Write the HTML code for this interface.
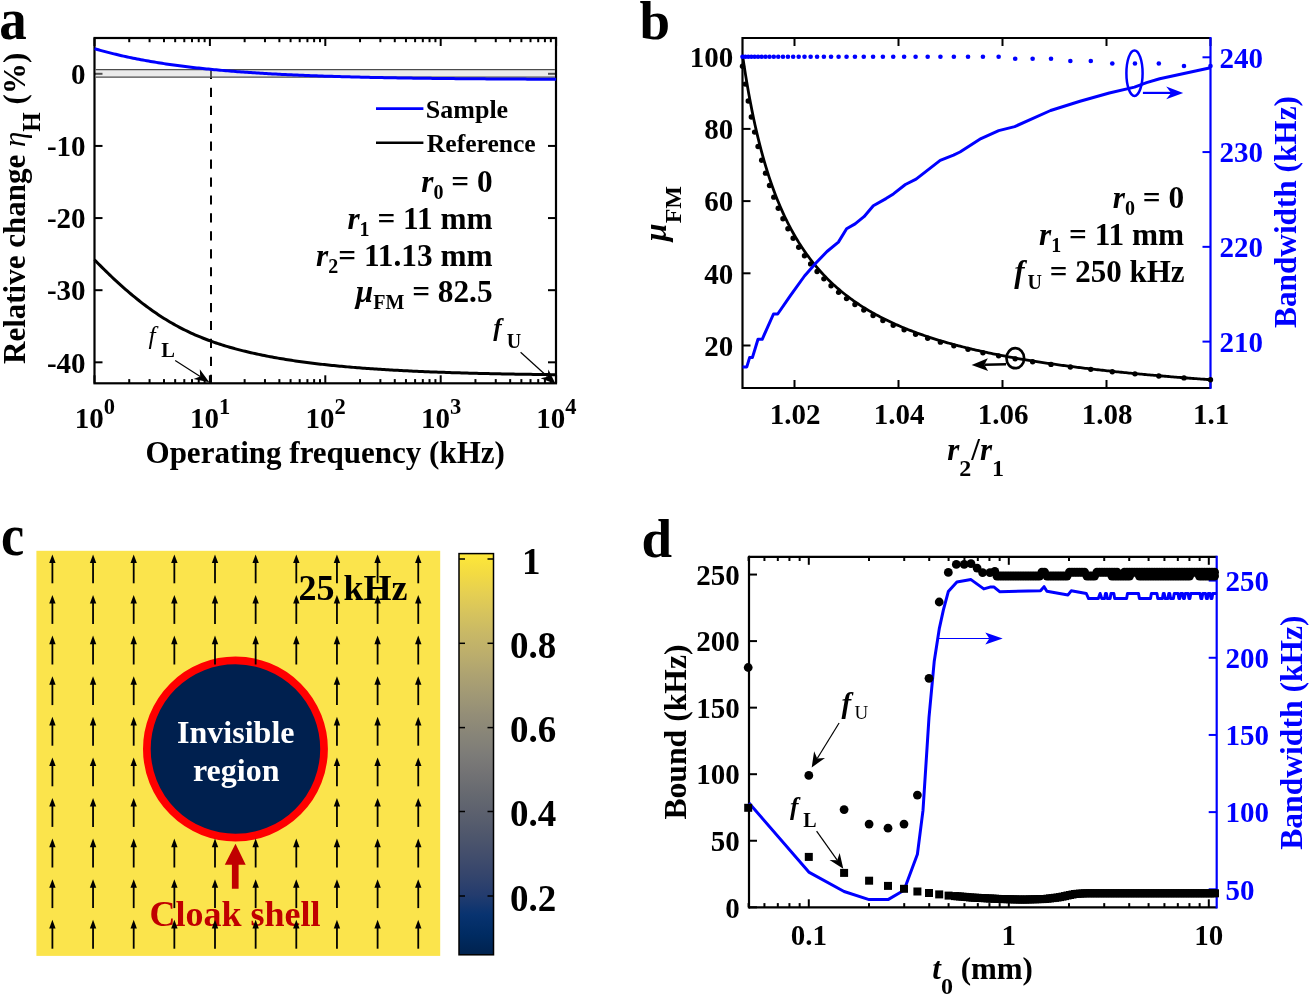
<!DOCTYPE html>
<html><head><meta charset="utf-8"><style>
html,body{margin:0;padding:0;background:#fff;overflow:hidden;}
svg{display:block;will-change:transform;}
text{font-family:"Liberation Serif",serif;font-weight:bold;}
</style></head><body>
<svg width="1309" height="995" viewBox="0 0 1309 995">
<rect width="1309" height="995" fill="#fff"/>
<line x1="94.50" y1="383.30" x2="94.50" y2="375.30" stroke="#000" stroke-width="2.0" />
<line x1="94.50" y1="38.00" x2="94.50" y2="46.00" stroke="#000" stroke-width="2.0" />
<line x1="129.24" y1="383.30" x2="129.24" y2="379.10" stroke="#000" stroke-width="2.0" />
<line x1="129.24" y1="38.00" x2="129.24" y2="42.20" stroke="#000" stroke-width="2.0" />
<line x1="149.56" y1="383.30" x2="149.56" y2="379.10" stroke="#000" stroke-width="2.0" />
<line x1="149.56" y1="38.00" x2="149.56" y2="42.20" stroke="#000" stroke-width="2.0" />
<line x1="163.98" y1="383.30" x2="163.98" y2="379.10" stroke="#000" stroke-width="2.0" />
<line x1="163.98" y1="38.00" x2="163.98" y2="42.20" stroke="#000" stroke-width="2.0" />
<line x1="175.16" y1="383.30" x2="175.16" y2="379.10" stroke="#000" stroke-width="2.0" />
<line x1="175.16" y1="38.00" x2="175.16" y2="42.20" stroke="#000" stroke-width="2.0" />
<line x1="184.30" y1="383.30" x2="184.30" y2="379.10" stroke="#000" stroke-width="2.0" />
<line x1="184.30" y1="38.00" x2="184.30" y2="42.20" stroke="#000" stroke-width="2.0" />
<line x1="192.02" y1="383.30" x2="192.02" y2="379.10" stroke="#000" stroke-width="2.0" />
<line x1="192.02" y1="38.00" x2="192.02" y2="42.20" stroke="#000" stroke-width="2.0" />
<line x1="198.72" y1="383.30" x2="198.72" y2="379.10" stroke="#000" stroke-width="2.0" />
<line x1="198.72" y1="38.00" x2="198.72" y2="42.20" stroke="#000" stroke-width="2.0" />
<line x1="204.62" y1="383.30" x2="204.62" y2="379.10" stroke="#000" stroke-width="2.0" />
<line x1="204.62" y1="38.00" x2="204.62" y2="42.20" stroke="#000" stroke-width="2.0" />
<line x1="209.90" y1="383.30" x2="209.90" y2="375.30" stroke="#000" stroke-width="2.0" />
<line x1="209.90" y1="38.00" x2="209.90" y2="46.00" stroke="#000" stroke-width="2.0" />
<line x1="244.64" y1="383.30" x2="244.64" y2="379.10" stroke="#000" stroke-width="2.0" />
<line x1="244.64" y1="38.00" x2="244.64" y2="42.20" stroke="#000" stroke-width="2.0" />
<line x1="264.96" y1="383.30" x2="264.96" y2="379.10" stroke="#000" stroke-width="2.0" />
<line x1="264.96" y1="38.00" x2="264.96" y2="42.20" stroke="#000" stroke-width="2.0" />
<line x1="279.38" y1="383.30" x2="279.38" y2="379.10" stroke="#000" stroke-width="2.0" />
<line x1="279.38" y1="38.00" x2="279.38" y2="42.20" stroke="#000" stroke-width="2.0" />
<line x1="290.56" y1="383.30" x2="290.56" y2="379.10" stroke="#000" stroke-width="2.0" />
<line x1="290.56" y1="38.00" x2="290.56" y2="42.20" stroke="#000" stroke-width="2.0" />
<line x1="299.70" y1="383.30" x2="299.70" y2="379.10" stroke="#000" stroke-width="2.0" />
<line x1="299.70" y1="38.00" x2="299.70" y2="42.20" stroke="#000" stroke-width="2.0" />
<line x1="307.42" y1="383.30" x2="307.42" y2="379.10" stroke="#000" stroke-width="2.0" />
<line x1="307.42" y1="38.00" x2="307.42" y2="42.20" stroke="#000" stroke-width="2.0" />
<line x1="314.12" y1="383.30" x2="314.12" y2="379.10" stroke="#000" stroke-width="2.0" />
<line x1="314.12" y1="38.00" x2="314.12" y2="42.20" stroke="#000" stroke-width="2.0" />
<line x1="320.02" y1="383.30" x2="320.02" y2="379.10" stroke="#000" stroke-width="2.0" />
<line x1="320.02" y1="38.00" x2="320.02" y2="42.20" stroke="#000" stroke-width="2.0" />
<line x1="325.30" y1="383.30" x2="325.30" y2="375.30" stroke="#000" stroke-width="2.0" />
<line x1="325.30" y1="38.00" x2="325.30" y2="46.00" stroke="#000" stroke-width="2.0" />
<line x1="360.04" y1="383.30" x2="360.04" y2="379.10" stroke="#000" stroke-width="2.0" />
<line x1="360.04" y1="38.00" x2="360.04" y2="42.20" stroke="#000" stroke-width="2.0" />
<line x1="380.36" y1="383.30" x2="380.36" y2="379.10" stroke="#000" stroke-width="2.0" />
<line x1="380.36" y1="38.00" x2="380.36" y2="42.20" stroke="#000" stroke-width="2.0" />
<line x1="394.78" y1="383.30" x2="394.78" y2="379.10" stroke="#000" stroke-width="2.0" />
<line x1="394.78" y1="38.00" x2="394.78" y2="42.20" stroke="#000" stroke-width="2.0" />
<line x1="405.96" y1="383.30" x2="405.96" y2="379.10" stroke="#000" stroke-width="2.0" />
<line x1="405.96" y1="38.00" x2="405.96" y2="42.20" stroke="#000" stroke-width="2.0" />
<line x1="415.10" y1="383.30" x2="415.10" y2="379.10" stroke="#000" stroke-width="2.0" />
<line x1="415.10" y1="38.00" x2="415.10" y2="42.20" stroke="#000" stroke-width="2.0" />
<line x1="422.82" y1="383.30" x2="422.82" y2="379.10" stroke="#000" stroke-width="2.0" />
<line x1="422.82" y1="38.00" x2="422.82" y2="42.20" stroke="#000" stroke-width="2.0" />
<line x1="429.52" y1="383.30" x2="429.52" y2="379.10" stroke="#000" stroke-width="2.0" />
<line x1="429.52" y1="38.00" x2="429.52" y2="42.20" stroke="#000" stroke-width="2.0" />
<line x1="435.42" y1="383.30" x2="435.42" y2="379.10" stroke="#000" stroke-width="2.0" />
<line x1="435.42" y1="38.00" x2="435.42" y2="42.20" stroke="#000" stroke-width="2.0" />
<line x1="440.70" y1="383.30" x2="440.70" y2="375.30" stroke="#000" stroke-width="2.0" />
<line x1="440.70" y1="38.00" x2="440.70" y2="46.00" stroke="#000" stroke-width="2.0" />
<line x1="475.44" y1="383.30" x2="475.44" y2="379.10" stroke="#000" stroke-width="2.0" />
<line x1="475.44" y1="38.00" x2="475.44" y2="42.20" stroke="#000" stroke-width="2.0" />
<line x1="495.76" y1="383.30" x2="495.76" y2="379.10" stroke="#000" stroke-width="2.0" />
<line x1="495.76" y1="38.00" x2="495.76" y2="42.20" stroke="#000" stroke-width="2.0" />
<line x1="510.18" y1="383.30" x2="510.18" y2="379.10" stroke="#000" stroke-width="2.0" />
<line x1="510.18" y1="38.00" x2="510.18" y2="42.20" stroke="#000" stroke-width="2.0" />
<line x1="521.36" y1="383.30" x2="521.36" y2="379.10" stroke="#000" stroke-width="2.0" />
<line x1="521.36" y1="38.00" x2="521.36" y2="42.20" stroke="#000" stroke-width="2.0" />
<line x1="530.50" y1="383.30" x2="530.50" y2="379.10" stroke="#000" stroke-width="2.0" />
<line x1="530.50" y1="38.00" x2="530.50" y2="42.20" stroke="#000" stroke-width="2.0" />
<line x1="538.22" y1="383.30" x2="538.22" y2="379.10" stroke="#000" stroke-width="2.0" />
<line x1="538.22" y1="38.00" x2="538.22" y2="42.20" stroke="#000" stroke-width="2.0" />
<line x1="544.92" y1="383.30" x2="544.92" y2="379.10" stroke="#000" stroke-width="2.0" />
<line x1="544.92" y1="38.00" x2="544.92" y2="42.20" stroke="#000" stroke-width="2.0" />
<line x1="550.82" y1="383.30" x2="550.82" y2="379.10" stroke="#000" stroke-width="2.0" />
<line x1="550.82" y1="38.00" x2="550.82" y2="42.20" stroke="#000" stroke-width="2.0" />
<line x1="556.10" y1="383.30" x2="556.10" y2="375.30" stroke="#000" stroke-width="2.0" />
<line x1="556.10" y1="38.00" x2="556.10" y2="46.00" stroke="#000" stroke-width="2.0" />
<line x1="94.50" y1="73.80" x2="102.50" y2="73.80" stroke="#000" stroke-width="2.0" />
<line x1="556.00" y1="73.80" x2="548.00" y2="73.80" stroke="#000" stroke-width="2.0" />
<line x1="94.50" y1="145.93" x2="102.50" y2="145.93" stroke="#000" stroke-width="2.0" />
<line x1="556.00" y1="145.93" x2="548.00" y2="145.93" stroke="#000" stroke-width="2.0" />
<line x1="94.50" y1="218.06" x2="102.50" y2="218.06" stroke="#000" stroke-width="2.0" />
<line x1="556.00" y1="218.06" x2="548.00" y2="218.06" stroke="#000" stroke-width="2.0" />
<line x1="94.50" y1="290.19" x2="102.50" y2="290.19" stroke="#000" stroke-width="2.0" />
<line x1="556.00" y1="290.19" x2="548.00" y2="290.19" stroke="#000" stroke-width="2.0" />
<line x1="94.50" y1="362.32" x2="102.50" y2="362.32" stroke="#000" stroke-width="2.0" />
<line x1="556.00" y1="362.32" x2="548.00" y2="362.32" stroke="#000" stroke-width="2.0" />
<rect x="94.5" y="38.0" width="461.5" height="345.3" fill="none" stroke="#000" stroke-width="2.2"/>
<line x1="211.00" y1="69.90" x2="211.00" y2="383.30" stroke="#000" stroke-width="2" stroke-dasharray="9.2 8.73"/>
<rect x="95.6" y="69.6" width="459.3" height="7.6" fill="#cccccc" fill-opacity="0.4"/>
<line x1="95.60" y1="69.60" x2="554.90" y2="69.60" stroke="#4d4d4d" stroke-width="1.3" />
<line x1="95.60" y1="77.20" x2="554.90" y2="77.20" stroke="#4d4d4d" stroke-width="1.3" />
<polyline points="94.50,48.68 96.43,49.24 98.36,49.79 100.29,50.33 102.23,50.86 104.16,51.38 106.09,51.89 108.02,52.40 109.95,52.89 111.88,53.37 113.81,53.85 115.75,54.32 117.68,54.78 119.61,55.23 121.54,55.67 123.47,56.10 125.40,56.53 127.33,56.95 129.26,57.36 131.20,57.76 133.13,58.16 135.06,58.55 136.99,58.93 138.92,59.31 140.85,59.67 142.78,60.04 144.72,60.39 146.65,60.74 148.58,61.08 150.51,61.42 152.44,61.75 154.37,62.07 156.30,62.39 158.24,62.70 160.17,63.01 162.10,63.31 164.03,63.61 165.96,63.90 167.89,64.18 169.82,64.46 171.76,64.74 173.69,65.01 175.62,65.27 177.55,65.53 179.48,65.79 181.41,66.04 183.34,66.29 185.27,66.53 187.21,66.77 189.14,67.00 191.07,67.23 193.00,67.45 194.93,67.67 196.86,67.89 198.79,68.10 200.73,68.31 202.66,68.52 204.59,68.72 206.52,68.92 208.45,69.11 210.38,69.30 212.31,69.49 214.25,69.67 216.18,69.85 218.11,70.03 220.04,70.21 221.97,70.38 223.90,70.54 225.83,70.71 227.77,70.87 229.70,71.03 231.63,71.19 233.56,71.34 235.49,71.49 237.42,71.64 239.35,71.78 241.28,71.92 243.22,72.06 245.15,72.20 247.08,72.34 249.01,72.47 250.94,72.60 252.87,72.73 254.80,72.85 256.74,72.97 258.67,73.10 260.60,73.21 262.53,73.33 264.46,73.45 266.39,73.56 268.32,73.67 270.26,73.78 272.19,73.88 274.12,73.99 276.05,74.09 277.98,74.19 279.91,74.29 281.84,74.39 283.78,74.48 285.71,74.57 287.64,74.67 289.57,74.76 291.50,74.84 293.43,74.93 295.36,75.02 297.29,75.10 299.23,75.18 301.16,75.26 303.09,75.34 305.02,75.42 306.95,75.50 308.88,75.57 310.81,75.65 312.75,75.72 314.68,75.79 316.61,75.86 318.54,75.93 320.47,76.00 322.40,76.06 324.33,76.13 326.27,76.19 328.20,76.25 330.13,76.31 332.06,76.37 333.99,76.43 335.92,76.49 337.85,76.55 339.79,76.60 341.72,76.66 343.65,76.71 345.58,76.77 347.51,76.82 349.44,76.87 351.37,76.92 353.31,76.97 355.24,77.02 357.17,77.07 359.10,77.11 361.03,77.16 362.96,77.20 364.89,77.25 366.82,77.29 368.76,77.33 370.69,77.38 372.62,77.42 374.55,77.46 376.48,77.50 378.41,77.53 380.34,77.57 382.28,77.61 384.21,77.65 386.14,77.68 388.07,77.72 390.00,77.75 391.93,77.79 393.86,77.82 395.80,77.85 397.73,77.89 399.66,77.92 401.59,77.95 403.52,77.98 405.45,78.01 407.38,78.04 409.32,78.07 411.25,78.10 413.18,78.13 415.11,78.15 417.04,78.18 418.97,78.21 420.90,78.23 422.83,78.26 424.77,78.28 426.70,78.31 428.63,78.33 430.56,78.36 432.49,78.38 434.42,78.40 436.35,78.42 438.29,78.45 440.22,78.47 442.15,78.49 444.08,78.51 446.01,78.53 447.94,78.55 449.87,78.57 451.81,78.59 453.74,78.61 455.67,78.63 457.60,78.65 459.53,78.66 461.46,78.68 463.39,78.70 465.33,78.72 467.26,78.73 469.19,78.75 471.12,78.77 473.05,78.78 474.98,78.80 476.91,78.81 478.84,78.83 480.78,78.84 482.71,78.86 484.64,78.87 486.57,78.89 488.50,78.90 490.43,78.91 492.36,78.93 494.30,78.94 496.23,78.95 498.16,78.96 500.09,78.98 502.02,78.99 503.95,79.00 505.88,79.01 507.82,79.02 509.75,79.03 511.68,79.05 513.61,79.06 515.54,79.07 517.47,79.08 519.40,79.09 521.34,79.10 523.27,79.11 525.20,79.12 527.13,79.13 529.06,79.14 530.99,79.15 532.92,79.15 534.85,79.16 536.79,79.17 538.72,79.18 540.65,79.19 542.58,79.20 544.51,79.21 546.44,79.21 548.37,79.22 550.31,79.23 552.24,79.24 554.17,79.24 556.10,79.25" fill="none" stroke="#0000ff" stroke-width="3" stroke-linejoin="round" />
<polyline points="94.50,259.68 96.43,261.69 98.36,263.68 100.29,265.64 102.23,267.58 104.16,269.51 106.09,271.41 108.02,273.28 109.95,275.14 111.88,276.98 113.81,278.80 115.75,280.60 117.68,282.38 119.61,284.13 121.54,285.87 123.47,287.59 125.40,289.28 127.33,290.96 129.26,292.61 131.20,294.24 133.13,295.85 135.06,297.44 136.99,299.00 138.92,300.54 140.85,302.06 142.78,303.56 144.72,305.03 146.65,306.48 148.58,307.90 150.51,309.30 152.44,310.68 154.37,312.02 156.30,313.35 158.24,314.65 160.17,315.93 162.10,317.18 164.03,318.40 165.96,319.60 167.89,320.78 169.82,321.93 171.76,323.05 173.69,324.16 175.62,325.24 177.55,326.29 179.48,327.32 181.41,328.33 183.34,329.31 185.27,330.28 187.21,331.22 189.14,332.14 191.07,333.03 193.00,333.91 194.93,334.77 196.86,335.60 198.79,336.42 200.73,337.22 202.66,338.00 204.59,338.76 206.52,339.50 208.45,340.23 210.38,340.94 212.31,341.63 214.25,342.31 216.18,342.97 218.11,343.62 220.04,344.25 221.97,344.87 223.90,345.47 225.83,346.06 227.77,346.64 229.70,347.21 231.63,347.76 233.56,348.30 235.49,348.83 237.42,349.35 239.35,349.86 241.28,350.36 243.22,350.84 245.15,351.32 247.08,351.79 249.01,352.24 250.94,352.69 252.87,353.13 254.80,353.56 256.74,353.98 258.67,354.40 260.60,354.80 262.53,355.20 264.46,355.59 266.39,355.97 268.32,356.35 270.26,356.71 272.19,357.07 274.12,357.43 276.05,357.77 277.98,358.11 279.91,358.45 281.84,358.77 283.78,359.09 285.71,359.41 287.64,359.72 289.57,360.02 291.50,360.32 293.43,360.61 295.36,360.90 297.29,361.18 299.23,361.45 301.16,361.72 303.09,361.99 305.02,362.25 306.95,362.50 308.88,362.75 310.81,363.00 312.75,363.24 314.68,363.47 316.61,363.71 318.54,363.93 320.47,364.16 322.40,364.38 324.33,364.59 326.27,364.80 328.20,365.01 330.13,365.21 332.06,365.41 333.99,365.61 335.92,365.80 337.85,365.99 339.79,366.17 341.72,366.36 343.65,366.53 345.58,366.71 347.51,366.88 349.44,367.05 351.37,367.21 353.31,367.38 355.24,367.53 357.17,367.69 359.10,367.84 361.03,367.99 362.96,368.14 364.89,368.29 366.82,368.43 368.76,368.57 370.69,368.70 372.62,368.84 374.55,368.97 376.48,369.10 378.41,369.23 380.34,369.35 382.28,369.47 384.21,369.59 386.14,369.71 388.07,369.82 390.00,369.94 391.93,370.05 393.86,370.16 395.80,370.26 397.73,370.37 399.66,370.47 401.59,370.57 403.52,370.67 405.45,370.77 407.38,370.87 409.32,370.96 411.25,371.05 413.18,371.14 415.11,371.23 417.04,371.32 418.97,371.40 420.90,371.48 422.83,371.57 424.77,371.65 426.70,371.73 428.63,371.80 430.56,371.88 432.49,371.95 434.42,372.03 436.35,372.10 438.29,372.17 440.22,372.24 442.15,372.31 444.08,372.37 446.01,372.44 447.94,372.50 449.87,372.57 451.81,372.63 453.74,372.69 455.67,372.75 457.60,372.81 459.53,372.86 461.46,372.92 463.39,372.98 465.33,373.03 467.26,373.08 469.19,373.13 471.12,373.19 473.05,373.24 474.98,373.29 476.91,373.33 478.84,373.38 480.78,373.43 482.71,373.47 484.64,373.52 486.57,373.56 488.50,373.61 490.43,373.65 492.36,373.69 494.30,373.73 496.23,373.77 498.16,373.81 500.09,373.85 502.02,373.89 503.95,373.92 505.88,373.96 507.82,373.99 509.75,374.03 511.68,374.06 513.61,374.10 515.54,374.13 517.47,374.16 519.40,374.20 521.34,374.23 523.27,374.26 525.20,374.29 527.13,374.32 529.06,374.35 530.99,374.37 532.92,374.40 534.85,374.43 536.79,374.46 538.72,374.48 540.65,374.51 542.58,374.53 544.51,374.56 546.44,374.58 548.37,374.61 550.31,374.63 552.24,374.65 554.17,374.68 556.10,374.70" fill="none" stroke="#000" stroke-width="3" stroke-linejoin="round" />
<text x="85.60" y="84.00" font-size="29" text-anchor="end" fill="#000" >0</text>
<text x="85.60" y="156.13" font-size="29" text-anchor="end" fill="#000" >-10</text>
<text x="85.60" y="228.26" font-size="29" text-anchor="end" fill="#000" >-20</text>
<text x="85.60" y="300.39" font-size="29" text-anchor="end" fill="#000" >-30</text>
<text x="85.60" y="372.52" font-size="29" text-anchor="end" fill="#000" >-40</text>
<text x="94.80" y="428.00" text-anchor="middle" fill="#000"><tspan font-size="29">10</tspan><tspan font-size="22.5" dy="-14.30">0</tspan></text>
<text x="210.20" y="428.00" text-anchor="middle" fill="#000"><tspan font-size="29">10</tspan><tspan font-size="22.5" dy="-14.30">1</tspan></text>
<text x="325.60" y="428.00" text-anchor="middle" fill="#000"><tspan font-size="29">10</tspan><tspan font-size="22.5" dy="-14.30">2</tspan></text>
<text x="441.00" y="428.00" text-anchor="middle" fill="#000"><tspan font-size="29">10</tspan><tspan font-size="22.5" dy="-14.30">3</tspan></text>
<text x="556.40" y="428.00" text-anchor="middle" fill="#000"><tspan font-size="29">10</tspan><tspan font-size="22.5" dy="-14.30">4</tspan></text>
<text x="325.20" y="463.00" font-size="31" text-anchor="middle" fill="#000" >Operating frequency (kHz)</text>
<text transform="translate(24.5,208.4) rotate(-90)" text-anchor="middle" fill="#000"><tspan font-size="31">Relative change </tspan><tspan font-size="31" font-weight="normal" font-style="italic">η</tspan><tspan font-size="25" dy="15.00">H</tspan><tspan font-size="31" dy="-15.00"> (%)</tspan></text>
<text transform="translate(-0.8,38.7) scale(1,1.07)" font-size="55">a</text>
<line x1="376.00" y1="108.60" x2="423.40" y2="108.60" stroke="#0000ff" stroke-width="2.6" />
<line x1="376.00" y1="142.70" x2="423.40" y2="142.70" stroke="#000" stroke-width="2.6" />
<text x="425.80" y="118.00" font-size="26" text-anchor="start" fill="#000" >Sample</text>
<text x="426.80" y="151.50" font-size="25.6" text-anchor="start" fill="#000" >Reference</text>
<text x="492.60" y="192.30" text-anchor="end" fill="#000"><tspan font-size="31.3" font-style="italic">r</tspan><tspan font-size="20" dy="7.00">0</tspan><tspan font-size="31.3" dy="-7.00"> = 0</tspan></text>
<text x="492.60" y="229.00" text-anchor="end" fill="#000"><tspan font-size="31.3" font-style="italic">r</tspan><tspan font-size="20" dy="7.00">1</tspan><tspan font-size="31.3" dy="-7.00"> = 11 mm</tspan></text>
<text x="492.60" y="266.00" text-anchor="end" fill="#000"><tspan font-size="31.3" font-style="italic">r</tspan><tspan font-size="20" dy="7.00">2</tspan><tspan font-size="31.3" dy="-7.00">= 11.13 mm</tspan></text>
<text x="492.60" y="302.40" text-anchor="end" fill="#000"><tspan font-size="31.3" font-style="italic">μ</tspan><tspan font-size="20" dy="7.00">FM</tspan><tspan font-size="31.3" dy="-7.00"> = 82.5</tspan></text>
<text x="148.4" y="343.9"><tspan font-size="25.5" font-style="italic" font-weight="normal">f</tspan><tspan font-size="20.5" dy="12.7" dx="5.8">L</tspan></text>
<line x1="175.20" y1="360.50" x2="200.20" y2="376.48" stroke="#000" stroke-width="1.2" />
<path d="M209.30,382.30 L193.54,379.11 L200.20,376.48 L199.79,369.33 Z" fill="#000"/>
<text x="493.3" y="335.5"><tspan font-size="25.5" font-style="italic">f</tspan><tspan font-size="20" dy="12.2" dx="5">U</tspan></text>
<line x1="520.60" y1="352.20" x2="547.61" y2="376.74" stroke="#000" stroke-width="1.2" />
<path d="M555.60,384.00 L540.60,378.21 L547.61,376.74 L548.40,369.62 Z" fill="#000"/>
<line x1="794.50" y1="388.00" x2="794.50" y2="380.00" stroke="#000" stroke-width="2.0" />
<line x1="794.50" y1="38.00" x2="794.50" y2="46.00" stroke="#000" stroke-width="2.0" />
<line x1="898.50" y1="388.00" x2="898.50" y2="380.00" stroke="#000" stroke-width="2.0" />
<line x1="898.50" y1="38.00" x2="898.50" y2="46.00" stroke="#000" stroke-width="2.0" />
<line x1="1002.50" y1="388.00" x2="1002.50" y2="380.00" stroke="#000" stroke-width="2.0" />
<line x1="1002.50" y1="38.00" x2="1002.50" y2="46.00" stroke="#000" stroke-width="2.0" />
<line x1="1106.50" y1="388.00" x2="1106.50" y2="380.00" stroke="#000" stroke-width="2.0" />
<line x1="1106.50" y1="38.00" x2="1106.50" y2="46.00" stroke="#000" stroke-width="2.0" />
<line x1="1210.50" y1="388.00" x2="1210.50" y2="380.00" stroke="#000" stroke-width="2.0" />
<line x1="1210.50" y1="38.00" x2="1210.50" y2="46.00" stroke="#000" stroke-width="2.0" />
<line x1="742.50" y1="345.50" x2="750.50" y2="345.50" stroke="#000" stroke-width="2.0" />
<line x1="742.50" y1="273.30" x2="750.50" y2="273.30" stroke="#000" stroke-width="2.0" />
<line x1="742.50" y1="201.10" x2="750.50" y2="201.10" stroke="#000" stroke-width="2.0" />
<line x1="742.50" y1="128.90" x2="750.50" y2="128.90" stroke="#000" stroke-width="2.0" />
<line x1="742.50" y1="56.70" x2="750.50" y2="56.70" stroke="#000" stroke-width="2.0" />
<line x1="1210.50" y1="341.61" x2="1202.50" y2="341.61" stroke="#0000ff" stroke-width="2.0" />
<line x1="1210.50" y1="246.84" x2="1202.50" y2="246.84" stroke="#0000ff" stroke-width="2.0" />
<line x1="1210.50" y1="152.07" x2="1202.50" y2="152.07" stroke="#0000ff" stroke-width="2.0" />
<line x1="1210.50" y1="57.30" x2="1202.50" y2="57.30" stroke="#0000ff" stroke-width="2.0" />
<line x1="742.50" y1="38.00" x2="1210.50" y2="38.00" stroke="#000" stroke-width="2.2" />
<line x1="742.50" y1="388.00" x2="1210.50" y2="388.00" stroke="#000" stroke-width="2.2" />
<line x1="742.50" y1="36.90" x2="742.50" y2="389.10" stroke="#000" stroke-width="2.2" />
<line x1="1210.50" y1="36.90" x2="1210.50" y2="389.10" stroke="#0000ff" stroke-width="2.2" />
<polyline points="742.50,54.89 744.07,65.43 745.63,75.38 747.20,84.78 748.76,93.68 750.33,102.11 751.89,110.11 753.46,117.71 755.02,124.94 756.59,131.83 758.15,138.41 759.72,144.68 761.28,150.68 762.85,156.41 764.41,161.91 765.98,167.17 767.54,172.23 769.11,177.08 770.67,181.74 772.24,186.22 773.80,190.54 775.37,194.69 776.93,198.70 778.50,202.56 780.07,206.29 781.63,209.89 783.20,213.37 784.76,216.73 786.33,219.98 787.89,223.13 789.46,226.18 791.02,229.13 792.59,232.00 794.15,234.77 795.72,237.47 797.28,240.08 798.85,242.62 800.41,245.09 801.98,247.48 803.54,249.82 805.11,252.08 806.67,254.29 808.24,256.44 809.80,258.53 811.37,260.57 812.93,262.55 814.50,264.49 816.07,266.37 817.63,268.21 819.20,270.01 820.76,271.76 822.33,273.47 823.89,275.14 825.46,276.78 827.02,278.37 828.59,279.93 830.15,281.45 831.72,282.94 833.28,284.40 834.85,285.82 836.41,287.22 837.98,288.58 839.54,289.92 841.11,291.23 842.67,292.51 844.24,293.77 845.80,295.00 847.37,296.20 848.93,297.38 850.50,298.54 852.07,299.68 853.63,300.79 855.20,301.89 856.76,302.96 858.33,304.01 859.89,305.05 861.46,306.06 863.02,307.06 864.59,308.03 866.15,308.99 867.72,309.94 869.28,310.87 870.85,311.78 872.41,312.67 873.98,313.55 875.54,314.42 877.11,315.27 878.67,316.10 880.24,316.93 881.80,317.74 883.37,318.53 884.93,319.32 886.50,320.09 888.07,320.84 889.63,321.59 891.20,322.33 892.76,323.05 894.33,323.76 895.89,324.46 897.46,325.15 899.02,325.84 900.59,326.51 902.15,327.17 903.72,327.82 905.28,328.46 906.85,329.09 908.41,329.71 909.98,330.33 911.54,330.93 913.11,331.53 914.67,332.12 916.24,332.70 917.80,333.27 919.37,333.84 920.93,334.39 922.50,334.94 924.07,335.48 925.63,336.02 927.20,336.55 928.76,337.07 930.33,337.58 931.89,338.09 933.46,338.59 935.02,339.08 936.59,339.57 938.15,340.05 939.72,340.53 941.28,341.00 942.85,341.46 944.41,341.92 945.98,342.37 947.54,342.82 949.11,343.26 950.67,343.70 952.24,344.13 953.80,344.56 955.37,344.98 956.93,345.39 958.50,345.80 960.07,346.21 961.63,346.61 963.20,347.01 964.76,347.40 966.33,347.79 967.89,348.17 969.46,348.55 971.02,348.93 972.59,349.30 974.15,349.67 975.72,350.03 977.28,350.39 978.85,350.74 980.41,351.10 981.98,351.44 983.54,351.79 985.11,352.13 986.67,352.46 988.24,352.80 989.80,353.13 991.37,353.45 992.93,353.77 994.50,354.09 996.07,354.41 997.63,354.72 999.20,355.03 1000.76,355.34 1002.33,355.64 1003.89,355.94 1005.46,356.24 1007.02,356.53 1008.59,356.83 1010.15,357.11 1011.72,357.40 1013.28,357.68 1014.85,357.96 1016.41,358.24 1017.98,358.52 1019.54,358.79 1021.11,359.06 1022.67,359.33 1024.24,359.59 1025.80,359.85 1027.37,360.11 1028.93,360.37 1030.50,360.63 1032.07,360.88 1033.63,361.13 1035.20,361.38 1036.76,361.62 1038.33,361.87 1039.89,362.11 1041.46,362.35 1043.02,362.59 1044.59,362.82 1046.15,363.05 1047.72,363.28 1049.28,363.51 1050.85,363.74 1052.41,363.97 1053.98,364.19 1055.54,364.41 1057.11,364.63 1058.67,364.85 1060.24,365.06 1061.80,365.28 1063.37,365.49 1064.93,365.70 1066.50,365.91 1068.07,366.11 1069.63,366.32 1071.20,366.52 1072.76,366.72 1074.33,366.92 1075.89,367.12 1077.46,367.32 1079.02,367.51 1080.59,367.71 1082.15,367.90 1083.72,368.09 1085.28,368.28 1086.85,368.47 1088.41,368.65 1089.98,368.84 1091.54,369.02 1093.11,369.20 1094.67,369.38 1096.24,369.56 1097.80,369.74 1099.37,369.91 1100.93,370.09 1102.50,370.26 1104.07,370.44 1105.63,370.61 1107.20,370.78 1108.76,370.94 1110.33,371.11 1111.89,371.28 1113.46,371.44 1115.02,371.61 1116.59,371.77 1118.15,371.93 1119.72,372.09 1121.28,372.25 1122.85,372.40 1124.41,372.56 1125.98,372.72 1127.54,372.87 1129.11,373.02 1130.67,373.17 1132.24,373.33 1133.80,373.48 1135.37,373.62 1136.93,373.77 1138.50,373.92 1140.07,374.06 1141.63,374.21 1143.20,374.35 1144.76,374.50 1146.33,374.64 1147.89,374.78 1149.46,374.92 1151.02,375.06 1152.59,375.19 1154.15,375.33 1155.72,375.47 1157.28,375.60 1158.85,375.74 1160.41,375.87 1161.98,376.00 1163.54,376.13 1165.11,376.26 1166.67,376.39 1168.24,376.52 1169.80,376.65 1171.37,376.78 1172.93,376.90 1174.50,377.03 1176.07,377.15 1177.63,377.28 1179.20,377.40 1180.76,377.52 1182.33,377.65 1183.89,377.77 1185.46,377.89 1187.02,378.01 1188.59,378.12 1190.15,378.24 1191.72,378.36 1193.28,378.48 1194.85,378.59 1196.41,378.71 1197.98,378.82 1199.54,378.93 1201.11,379.05 1202.67,379.16 1204.24,379.27 1205.80,379.38 1207.37,379.49 1208.93,379.60 1210.50,379.71" fill="none" stroke="#000" stroke-width="2.8" stroke-linejoin="round" />
<circle cx="742.50" cy="56.70" r="2.3" fill="#0000ff"/>
<circle cx="742.50" cy="66.32" r="2.7" fill="#000"/>
<circle cx="745.29" cy="56.70" r="2.3" fill="#0000ff"/>
<circle cx="745.29" cy="84.08" r="2.7" fill="#000"/>
<circle cx="748.24" cy="56.70" r="2.3" fill="#0000ff"/>
<circle cx="748.24" cy="100.94" r="2.7" fill="#000"/>
<circle cx="751.34" cy="56.70" r="2.3" fill="#0000ff"/>
<circle cx="751.34" cy="116.93" r="2.7" fill="#000"/>
<circle cx="754.61" cy="56.70" r="2.3" fill="#0000ff"/>
<circle cx="754.61" cy="132.11" r="2.7" fill="#000"/>
<circle cx="758.05" cy="56.70" r="2.3" fill="#0000ff"/>
<circle cx="758.05" cy="146.52" r="2.7" fill="#000"/>
<circle cx="761.68" cy="56.70" r="2.3" fill="#0000ff"/>
<circle cx="761.68" cy="160.19" r="2.7" fill="#000"/>
<circle cx="765.51" cy="56.70" r="2.3" fill="#0000ff"/>
<circle cx="765.51" cy="173.17" r="2.7" fill="#000"/>
<circle cx="769.54" cy="56.70" r="2.3" fill="#0000ff"/>
<circle cx="769.54" cy="185.48" r="2.7" fill="#000"/>
<circle cx="773.78" cy="56.70" r="2.3" fill="#0000ff"/>
<circle cx="773.78" cy="197.17" r="2.7" fill="#000"/>
<circle cx="778.26" cy="56.70" r="2.3" fill="#0000ff"/>
<circle cx="778.26" cy="208.26" r="2.7" fill="#000"/>
<circle cx="782.97" cy="56.70" r="2.3" fill="#0000ff"/>
<circle cx="782.97" cy="218.78" r="2.7" fill="#000"/>
<circle cx="787.94" cy="56.70" r="2.3" fill="#0000ff"/>
<circle cx="787.94" cy="228.77" r="2.7" fill="#000"/>
<circle cx="793.17" cy="56.70" r="2.3" fill="#0000ff"/>
<circle cx="793.17" cy="238.24" r="2.7" fill="#000"/>
<circle cx="798.69" cy="56.70" r="2.3" fill="#0000ff"/>
<circle cx="798.69" cy="247.24" r="2.7" fill="#000"/>
<circle cx="804.50" cy="56.70" r="2.3" fill="#0000ff"/>
<circle cx="804.50" cy="255.78" r="2.7" fill="#000"/>
<circle cx="810.63" cy="56.70" r="2.3" fill="#0000ff"/>
<circle cx="810.63" cy="263.88" r="2.7" fill="#000"/>
<circle cx="817.08" cy="56.70" r="2.3" fill="#0000ff"/>
<circle cx="817.08" cy="271.56" r="2.7" fill="#000"/>
<circle cx="823.88" cy="56.70" r="2.3" fill="#0000ff"/>
<circle cx="823.88" cy="278.86" r="2.7" fill="#000"/>
<circle cx="831.05" cy="56.70" r="2.3" fill="#0000ff"/>
<circle cx="831.05" cy="285.78" r="2.7" fill="#000"/>
<circle cx="838.60" cy="56.70" r="2.3" fill="#0000ff"/>
<circle cx="838.60" cy="292.35" r="2.7" fill="#000"/>
<circle cx="846.55" cy="56.70" r="2.3" fill="#0000ff"/>
<circle cx="846.55" cy="298.59" r="2.7" fill="#000"/>
<circle cx="854.94" cy="56.70" r="2.3" fill="#0000ff"/>
<circle cx="854.94" cy="304.50" r="2.7" fill="#000"/>
<circle cx="863.77" cy="56.70" r="2.3" fill="#0000ff"/>
<circle cx="863.77" cy="310.12" r="2.7" fill="#000"/>
<circle cx="873.08" cy="56.70" r="2.3" fill="#0000ff"/>
<circle cx="873.08" cy="315.45" r="2.7" fill="#000"/>
<circle cx="882.89" cy="56.70" r="2.3" fill="#0000ff"/>
<circle cx="882.89" cy="320.51" r="2.7" fill="#000"/>
<circle cx="893.23" cy="56.70" r="2.3" fill="#0000ff"/>
<circle cx="893.23" cy="325.31" r="2.7" fill="#000"/>
<circle cx="904.12" cy="56.70" r="2.3" fill="#0000ff"/>
<circle cx="904.12" cy="329.86" r="2.7" fill="#000"/>
<circle cx="915.60" cy="56.70" r="2.3" fill="#0000ff"/>
<circle cx="915.60" cy="334.18" r="2.7" fill="#000"/>
<circle cx="927.69" cy="56.70" r="2.3" fill="#0000ff"/>
<circle cx="927.69" cy="338.28" r="2.7" fill="#000"/>
<circle cx="940.43" cy="56.70" r="2.3" fill="#0000ff"/>
<circle cx="940.43" cy="342.17" r="2.7" fill="#000"/>
<circle cx="953.86" cy="56.70" r="2.3" fill="#0000ff"/>
<circle cx="953.86" cy="345.87" r="2.7" fill="#000"/>
<circle cx="968.01" cy="56.70" r="2.3" fill="#0000ff"/>
<circle cx="968.01" cy="349.37" r="2.7" fill="#000"/>
<circle cx="982.92" cy="56.70" r="2.3" fill="#0000ff"/>
<circle cx="982.92" cy="352.70" r="2.7" fill="#000"/>
<circle cx="998.63" cy="56.70" r="2.3" fill="#0000ff"/>
<circle cx="998.63" cy="355.85" r="2.7" fill="#000"/>
<circle cx="1015.18" cy="58.80" r="2.3" fill="#0000ff"/>
<circle cx="1015.18" cy="358.85" r="2.7" fill="#000"/>
<circle cx="1032.63" cy="58.80" r="2.3" fill="#0000ff"/>
<circle cx="1032.63" cy="361.69" r="2.7" fill="#000"/>
<circle cx="1051.01" cy="58.80" r="2.3" fill="#0000ff"/>
<circle cx="1051.01" cy="364.39" r="2.7" fill="#000"/>
<circle cx="1070.37" cy="61.00" r="2.3" fill="#0000ff"/>
<circle cx="1070.37" cy="366.95" r="2.7" fill="#000"/>
<circle cx="1090.78" cy="61.00" r="2.3" fill="#0000ff"/>
<circle cx="1090.78" cy="369.37" r="2.7" fill="#000"/>
<circle cx="1112.29" cy="63.50" r="2.3" fill="#0000ff"/>
<circle cx="1112.29" cy="371.68" r="2.7" fill="#000"/>
<circle cx="1134.95" cy="63.50" r="2.3" fill="#0000ff"/>
<circle cx="1134.95" cy="373.86" r="2.7" fill="#000"/>
<circle cx="1158.83" cy="63.50" r="2.3" fill="#0000ff"/>
<circle cx="1158.83" cy="375.94" r="2.7" fill="#000"/>
<circle cx="1183.99" cy="66.00" r="2.3" fill="#0000ff"/>
<circle cx="1183.99" cy="377.91" r="2.7" fill="#000"/>
<circle cx="1210.50" cy="66.00" r="2.3" fill="#0000ff"/>
<circle cx="1210.50" cy="379.78" r="2.7" fill="#000"/>
<polyline points="742.50,366.90 746.80,366.90 749.60,357.60 752.40,357.60 758.00,339.30 762.20,339.30 773.50,314.00 777.70,314.00 790.40,295.70 804.50,276.00 815.70,263.30 827.00,251.50 838.40,242.10 846.60,228.80 855.10,223.90 864.00,216.70 873.30,205.80 886.00,198.60 893.40,193.90 905.40,184.50 916.10,179.10 940.20,160.40 953.50,155.10 960.00,152.00 981.00,138.60 998.70,130.60 1014.70,126.60 1050.60,110.50 1080.00,101.30 1109.30,93.00 1134.50,87.10 1146.60,82.60 1159.70,78.70 1210.50,67.70" fill="none" stroke="#0000ff" stroke-width="3.0" stroke-linejoin="round" />
<text x="733.20" y="355.70" font-size="29" text-anchor="end" fill="#000" >20</text>
<text x="733.20" y="283.50" font-size="29" text-anchor="end" fill="#000" >40</text>
<text x="733.20" y="211.30" font-size="29" text-anchor="end" fill="#000" >60</text>
<text x="733.20" y="139.10" font-size="29" text-anchor="end" fill="#000" >80</text>
<text x="733.20" y="66.90" font-size="29" text-anchor="end" fill="#000" >100</text>
<text x="1219.50" y="351.81" font-size="29" text-anchor="start" fill="#0000ff" >210</text>
<text x="1219.50" y="257.04" font-size="29" text-anchor="start" fill="#0000ff" >220</text>
<text x="1219.50" y="162.27" font-size="29" text-anchor="start" fill="#0000ff" >230</text>
<text x="1219.50" y="67.50" font-size="29" text-anchor="start" fill="#0000ff" >240</text>
<text x="795.00" y="424.00" font-size="29" text-anchor="middle" fill="#000" >1.02</text>
<text x="899.00" y="424.00" font-size="29" text-anchor="middle" fill="#000" >1.04</text>
<text x="1003.00" y="424.00" font-size="29" text-anchor="middle" fill="#000" >1.06</text>
<text x="1107.00" y="424.00" font-size="29" text-anchor="middle" fill="#000" >1.08</text>
<text x="1211.00" y="424.00" font-size="29" text-anchor="middle" fill="#000" >1.1</text>
<text x="975.60" y="460.00" text-anchor="middle" fill="#000"><tspan font-size="31" font-style="italic">r</tspan><tspan font-size="24" dy="15.50">2</tspan><tspan font-size="31" dy="-15.50">/</tspan><tspan font-size="31" font-style="italic">r</tspan><tspan font-size="24" dy="15.50">1</tspan></text>
<text transform="translate(665.6,213.6) rotate(-90)" text-anchor="middle" fill="#000"><tspan font-size="32" font-style="italic">μ</tspan><tspan font-size="24" dy="15.50">FM</tspan></text>
<text transform="translate(1295.7,212) rotate(-90)" font-size="31.25" text-anchor="middle" fill="#0000ff">Bandwidth (kHz)</text>
<text x="639.50" y="39.00" font-size="55" text-anchor="start" fill="#000" >b</text>
<text x="1184.20" y="207.80" text-anchor="end" fill="#000"><tspan font-size="31.3" font-style="italic">r</tspan><tspan font-size="20" dy="7.00">0</tspan><tspan font-size="31.3" dy="-7.00"> = 0</tspan></text>
<text x="1184.20" y="245.00" text-anchor="end" fill="#000"><tspan font-size="31.3" font-style="italic">r</tspan><tspan font-size="20" dy="7.00">1</tspan><tspan font-size="31.3" dy="-7.00"> = 11 mm</tspan></text>
<text x="1184.6" y="281.6" text-anchor="end"><tspan font-size="31" font-style="italic">f</tspan><tspan font-size="20" dy="7" dx="3">U</tspan><tspan font-size="31" dy="-7"> = 250 kHz</tspan></text>
<ellipse cx="1134.5" cy="73.2" rx="8.1" ry="22.7" fill="none" stroke="#0000ff" stroke-width="2.5"/>
<line x1="1142.90" y1="92.90" x2="1171.20" y2="92.90" stroke="#0000ff" stroke-width="2.2" />
<path d="M1183.20,92.90 L1166.20,99.20 L1171.20,92.90 L1166.20,86.60 Z" fill="#0000ff"/>
<ellipse cx="1015.3" cy="358.2" rx="8.8" ry="10.0" fill="none" stroke="#000" stroke-width="2.7"/>
<line x1="1006.00" y1="364.30" x2="984.40" y2="364.74" stroke="#000" stroke-width="2.4" />
<path d="M971.60,365.00 L987.87,358.37 L984.40,364.74 L988.12,370.97 Z" fill="#000"/>
<text transform="translate(1.0,554.7) scale(0.95,1.07)" font-size="55">c</text>
<rect x="36.4" y="550.8" width="403.8" height="405.1" fill="#fbe44c"/>
<text x="298.50" y="599.50" font-size="36" text-anchor="start" fill="#000" >25 kHz</text>
<text x="235.00" y="925.50" font-size="36" text-anchor="middle" fill="#c00000" >Cloak shell</text>
<circle cx="235.45" cy="749" r="88.6" fill="#00204f" stroke="#ff0000" stroke-width="7.7"/>
<text x="235.80" y="743.20" font-size="32" text-anchor="middle" fill="#ffffff" >Invisible</text>
<text x="236.20" y="781.00" font-size="32" text-anchor="middle" fill="#ffffff" >region</text>
<path d="M235.5,843.8 L245.7,864.8 L238.6,864.8 L238.6,888.8 L231.9,888.8 L231.9,864.8 L224.8,864.8 Z" fill="#c00000"/>
<line x1="52.40" y1="560.40" x2="52.40" y2="583.30" stroke="#000" stroke-width="1.8" />
<path d="M52.40,554.40 L49.20,563.00 L55.60,563.00 Z" fill="#000"/>
<line x1="52.40" y1="601.00" x2="52.40" y2="623.90" stroke="#000" stroke-width="1.8" />
<path d="M52.40,595.00 L49.20,603.60 L55.60,603.60 Z" fill="#000"/>
<line x1="52.40" y1="641.60" x2="52.40" y2="664.50" stroke="#000" stroke-width="1.8" />
<path d="M52.40,635.60 L49.20,644.20 L55.60,644.20 Z" fill="#000"/>
<line x1="52.40" y1="682.20" x2="52.40" y2="705.10" stroke="#000" stroke-width="1.8" />
<path d="M52.40,676.20 L49.20,684.80 L55.60,684.80 Z" fill="#000"/>
<line x1="52.40" y1="722.80" x2="52.40" y2="745.70" stroke="#000" stroke-width="1.8" />
<path d="M52.40,716.80 L49.20,725.40 L55.60,725.40 Z" fill="#000"/>
<line x1="52.40" y1="763.40" x2="52.40" y2="786.30" stroke="#000" stroke-width="1.8" />
<path d="M52.40,757.40 L49.20,766.00 L55.60,766.00 Z" fill="#000"/>
<line x1="52.40" y1="804.00" x2="52.40" y2="826.90" stroke="#000" stroke-width="1.8" />
<path d="M52.40,798.00 L49.20,806.60 L55.60,806.60 Z" fill="#000"/>
<line x1="52.40" y1="844.60" x2="52.40" y2="867.50" stroke="#000" stroke-width="1.8" />
<path d="M52.40,838.60 L49.20,847.20 L55.60,847.20 Z" fill="#000"/>
<line x1="52.40" y1="885.20" x2="52.40" y2="908.10" stroke="#000" stroke-width="1.8" />
<path d="M52.40,879.20 L49.20,887.80 L55.60,887.80 Z" fill="#000"/>
<line x1="52.40" y1="925.80" x2="52.40" y2="948.70" stroke="#000" stroke-width="1.8" />
<path d="M52.40,919.80 L49.20,928.40 L55.60,928.40 Z" fill="#000"/>
<line x1="93.05" y1="560.40" x2="93.05" y2="583.30" stroke="#000" stroke-width="1.8" />
<path d="M93.05,554.40 L89.85,563.00 L96.25,563.00 Z" fill="#000"/>
<line x1="93.05" y1="601.00" x2="93.05" y2="623.90" stroke="#000" stroke-width="1.8" />
<path d="M93.05,595.00 L89.85,603.60 L96.25,603.60 Z" fill="#000"/>
<line x1="93.05" y1="641.60" x2="93.05" y2="664.50" stroke="#000" stroke-width="1.8" />
<path d="M93.05,635.60 L89.85,644.20 L96.25,644.20 Z" fill="#000"/>
<line x1="93.05" y1="682.20" x2="93.05" y2="705.10" stroke="#000" stroke-width="1.8" />
<path d="M93.05,676.20 L89.85,684.80 L96.25,684.80 Z" fill="#000"/>
<line x1="93.05" y1="722.80" x2="93.05" y2="745.70" stroke="#000" stroke-width="1.8" />
<path d="M93.05,716.80 L89.85,725.40 L96.25,725.40 Z" fill="#000"/>
<line x1="93.05" y1="763.40" x2="93.05" y2="786.30" stroke="#000" stroke-width="1.8" />
<path d="M93.05,757.40 L89.85,766.00 L96.25,766.00 Z" fill="#000"/>
<line x1="93.05" y1="804.00" x2="93.05" y2="826.90" stroke="#000" stroke-width="1.8" />
<path d="M93.05,798.00 L89.85,806.60 L96.25,806.60 Z" fill="#000"/>
<line x1="93.05" y1="844.60" x2="93.05" y2="867.50" stroke="#000" stroke-width="1.8" />
<path d="M93.05,838.60 L89.85,847.20 L96.25,847.20 Z" fill="#000"/>
<line x1="93.05" y1="885.20" x2="93.05" y2="908.10" stroke="#000" stroke-width="1.8" />
<path d="M93.05,879.20 L89.85,887.80 L96.25,887.80 Z" fill="#000"/>
<line x1="93.05" y1="925.80" x2="93.05" y2="948.70" stroke="#000" stroke-width="1.8" />
<path d="M93.05,919.80 L89.85,928.40 L96.25,928.40 Z" fill="#000"/>
<line x1="133.70" y1="560.40" x2="133.70" y2="583.30" stroke="#000" stroke-width="1.8" />
<path d="M133.70,554.40 L130.50,563.00 L136.90,563.00 Z" fill="#000"/>
<line x1="133.70" y1="601.00" x2="133.70" y2="623.90" stroke="#000" stroke-width="1.8" />
<path d="M133.70,595.00 L130.50,603.60 L136.90,603.60 Z" fill="#000"/>
<line x1="133.70" y1="641.60" x2="133.70" y2="664.50" stroke="#000" stroke-width="1.8" />
<path d="M133.70,635.60 L130.50,644.20 L136.90,644.20 Z" fill="#000"/>
<line x1="133.70" y1="682.20" x2="133.70" y2="705.10" stroke="#000" stroke-width="1.8" />
<path d="M133.70,676.20 L130.50,684.80 L136.90,684.80 Z" fill="#000"/>
<line x1="133.70" y1="722.80" x2="133.70" y2="745.70" stroke="#000" stroke-width="1.8" />
<path d="M133.70,716.80 L130.50,725.40 L136.90,725.40 Z" fill="#000"/>
<line x1="133.70" y1="763.40" x2="133.70" y2="786.30" stroke="#000" stroke-width="1.8" />
<path d="M133.70,757.40 L130.50,766.00 L136.90,766.00 Z" fill="#000"/>
<line x1="133.70" y1="804.00" x2="133.70" y2="826.90" stroke="#000" stroke-width="1.8" />
<path d="M133.70,798.00 L130.50,806.60 L136.90,806.60 Z" fill="#000"/>
<line x1="133.70" y1="844.60" x2="133.70" y2="867.50" stroke="#000" stroke-width="1.8" />
<path d="M133.70,838.60 L130.50,847.20 L136.90,847.20 Z" fill="#000"/>
<line x1="133.70" y1="885.20" x2="133.70" y2="908.10" stroke="#000" stroke-width="1.8" />
<path d="M133.70,879.20 L130.50,887.80 L136.90,887.80 Z" fill="#000"/>
<line x1="133.70" y1="925.80" x2="133.70" y2="948.70" stroke="#000" stroke-width="1.8" />
<path d="M133.70,919.80 L130.50,928.40 L136.90,928.40 Z" fill="#000"/>
<line x1="174.35" y1="560.40" x2="174.35" y2="583.30" stroke="#000" stroke-width="1.8" />
<path d="M174.35,554.40 L171.15,563.00 L177.55,563.00 Z" fill="#000"/>
<line x1="174.35" y1="601.00" x2="174.35" y2="623.90" stroke="#000" stroke-width="1.8" />
<path d="M174.35,595.00 L171.15,603.60 L177.55,603.60 Z" fill="#000"/>
<line x1="174.35" y1="641.60" x2="174.35" y2="664.50" stroke="#000" stroke-width="1.8" />
<path d="M174.35,635.60 L171.15,644.20 L177.55,644.20 Z" fill="#000"/>
<line x1="174.35" y1="844.60" x2="174.35" y2="867.50" stroke="#000" stroke-width="1.8" />
<path d="M174.35,838.60 L171.15,847.20 L177.55,847.20 Z" fill="#000"/>
<line x1="174.35" y1="885.20" x2="174.35" y2="908.10" stroke="#000" stroke-width="1.8" />
<path d="M174.35,879.20 L171.15,887.80 L177.55,887.80 Z" fill="#000"/>
<line x1="174.35" y1="925.80" x2="174.35" y2="948.70" stroke="#000" stroke-width="1.8" />
<path d="M174.35,919.80 L171.15,928.40 L177.55,928.40 Z" fill="#000"/>
<line x1="215.00" y1="560.40" x2="215.00" y2="583.30" stroke="#000" stroke-width="1.8" />
<path d="M215.00,554.40 L211.80,563.00 L218.20,563.00 Z" fill="#000"/>
<line x1="215.00" y1="601.00" x2="215.00" y2="623.90" stroke="#000" stroke-width="1.8" />
<path d="M215.00,595.00 L211.80,603.60 L218.20,603.60 Z" fill="#000"/>
<line x1="215.00" y1="641.60" x2="215.00" y2="664.50" stroke="#000" stroke-width="1.8" />
<path d="M215.00,635.60 L211.80,644.20 L218.20,644.20 Z" fill="#000"/>
<line x1="215.00" y1="844.60" x2="215.00" y2="867.50" stroke="#000" stroke-width="1.8" />
<path d="M215.00,838.60 L211.80,847.20 L218.20,847.20 Z" fill="#000"/>
<line x1="215.00" y1="885.20" x2="215.00" y2="908.10" stroke="#000" stroke-width="1.8" />
<path d="M215.00,879.20 L211.80,887.80 L218.20,887.80 Z" fill="#000"/>
<line x1="215.00" y1="925.80" x2="215.00" y2="948.70" stroke="#000" stroke-width="1.8" />
<path d="M215.00,919.80 L211.80,928.40 L218.20,928.40 Z" fill="#000"/>
<line x1="255.65" y1="560.40" x2="255.65" y2="583.30" stroke="#000" stroke-width="1.8" />
<path d="M255.65,554.40 L252.45,563.00 L258.85,563.00 Z" fill="#000"/>
<line x1="255.65" y1="601.00" x2="255.65" y2="623.90" stroke="#000" stroke-width="1.8" />
<path d="M255.65,595.00 L252.45,603.60 L258.85,603.60 Z" fill="#000"/>
<line x1="255.65" y1="641.60" x2="255.65" y2="664.50" stroke="#000" stroke-width="1.8" />
<path d="M255.65,635.60 L252.45,644.20 L258.85,644.20 Z" fill="#000"/>
<line x1="255.65" y1="844.60" x2="255.65" y2="867.50" stroke="#000" stroke-width="1.8" />
<path d="M255.65,838.60 L252.45,847.20 L258.85,847.20 Z" fill="#000"/>
<line x1="255.65" y1="885.20" x2="255.65" y2="908.10" stroke="#000" stroke-width="1.8" />
<path d="M255.65,879.20 L252.45,887.80 L258.85,887.80 Z" fill="#000"/>
<line x1="255.65" y1="925.80" x2="255.65" y2="948.70" stroke="#000" stroke-width="1.8" />
<path d="M255.65,919.80 L252.45,928.40 L258.85,928.40 Z" fill="#000"/>
<line x1="296.30" y1="560.40" x2="296.30" y2="583.30" stroke="#000" stroke-width="1.8" />
<path d="M296.30,554.40 L293.10,563.00 L299.50,563.00 Z" fill="#000"/>
<line x1="296.30" y1="601.00" x2="296.30" y2="623.90" stroke="#000" stroke-width="1.8" />
<path d="M296.30,595.00 L293.10,603.60 L299.50,603.60 Z" fill="#000"/>
<line x1="296.30" y1="641.60" x2="296.30" y2="664.50" stroke="#000" stroke-width="1.8" />
<path d="M296.30,635.60 L293.10,644.20 L299.50,644.20 Z" fill="#000"/>
<line x1="296.30" y1="844.60" x2="296.30" y2="867.50" stroke="#000" stroke-width="1.8" />
<path d="M296.30,838.60 L293.10,847.20 L299.50,847.20 Z" fill="#000"/>
<line x1="296.30" y1="885.20" x2="296.30" y2="908.10" stroke="#000" stroke-width="1.8" />
<path d="M296.30,879.20 L293.10,887.80 L299.50,887.80 Z" fill="#000"/>
<line x1="296.30" y1="925.80" x2="296.30" y2="948.70" stroke="#000" stroke-width="1.8" />
<path d="M296.30,919.80 L293.10,928.40 L299.50,928.40 Z" fill="#000"/>
<line x1="336.95" y1="560.40" x2="336.95" y2="583.30" stroke="#000" stroke-width="1.8" />
<path d="M336.95,554.40 L333.75,563.00 L340.15,563.00 Z" fill="#000"/>
<line x1="336.95" y1="601.00" x2="336.95" y2="623.90" stroke="#000" stroke-width="1.8" />
<path d="M336.95,595.00 L333.75,603.60 L340.15,603.60 Z" fill="#000"/>
<line x1="336.95" y1="641.60" x2="336.95" y2="664.50" stroke="#000" stroke-width="1.8" />
<path d="M336.95,635.60 L333.75,644.20 L340.15,644.20 Z" fill="#000"/>
<line x1="336.95" y1="682.20" x2="336.95" y2="705.10" stroke="#000" stroke-width="1.8" />
<path d="M336.95,676.20 L333.75,684.80 L340.15,684.80 Z" fill="#000"/>
<line x1="336.95" y1="722.80" x2="336.95" y2="745.70" stroke="#000" stroke-width="1.8" />
<path d="M336.95,716.80 L333.75,725.40 L340.15,725.40 Z" fill="#000"/>
<line x1="336.95" y1="763.40" x2="336.95" y2="786.30" stroke="#000" stroke-width="1.8" />
<path d="M336.95,757.40 L333.75,766.00 L340.15,766.00 Z" fill="#000"/>
<line x1="336.95" y1="804.00" x2="336.95" y2="826.90" stroke="#000" stroke-width="1.8" />
<path d="M336.95,798.00 L333.75,806.60 L340.15,806.60 Z" fill="#000"/>
<line x1="336.95" y1="844.60" x2="336.95" y2="867.50" stroke="#000" stroke-width="1.8" />
<path d="M336.95,838.60 L333.75,847.20 L340.15,847.20 Z" fill="#000"/>
<line x1="336.95" y1="885.20" x2="336.95" y2="908.10" stroke="#000" stroke-width="1.8" />
<path d="M336.95,879.20 L333.75,887.80 L340.15,887.80 Z" fill="#000"/>
<line x1="336.95" y1="925.80" x2="336.95" y2="948.70" stroke="#000" stroke-width="1.8" />
<path d="M336.95,919.80 L333.75,928.40 L340.15,928.40 Z" fill="#000"/>
<line x1="377.60" y1="560.40" x2="377.60" y2="583.30" stroke="#000" stroke-width="1.8" />
<path d="M377.60,554.40 L374.40,563.00 L380.80,563.00 Z" fill="#000"/>
<line x1="377.60" y1="601.00" x2="377.60" y2="623.90" stroke="#000" stroke-width="1.8" />
<path d="M377.60,595.00 L374.40,603.60 L380.80,603.60 Z" fill="#000"/>
<line x1="377.60" y1="641.60" x2="377.60" y2="664.50" stroke="#000" stroke-width="1.8" />
<path d="M377.60,635.60 L374.40,644.20 L380.80,644.20 Z" fill="#000"/>
<line x1="377.60" y1="682.20" x2="377.60" y2="705.10" stroke="#000" stroke-width="1.8" />
<path d="M377.60,676.20 L374.40,684.80 L380.80,684.80 Z" fill="#000"/>
<line x1="377.60" y1="722.80" x2="377.60" y2="745.70" stroke="#000" stroke-width="1.8" />
<path d="M377.60,716.80 L374.40,725.40 L380.80,725.40 Z" fill="#000"/>
<line x1="377.60" y1="763.40" x2="377.60" y2="786.30" stroke="#000" stroke-width="1.8" />
<path d="M377.60,757.40 L374.40,766.00 L380.80,766.00 Z" fill="#000"/>
<line x1="377.60" y1="804.00" x2="377.60" y2="826.90" stroke="#000" stroke-width="1.8" />
<path d="M377.60,798.00 L374.40,806.60 L380.80,806.60 Z" fill="#000"/>
<line x1="377.60" y1="844.60" x2="377.60" y2="867.50" stroke="#000" stroke-width="1.8" />
<path d="M377.60,838.60 L374.40,847.20 L380.80,847.20 Z" fill="#000"/>
<line x1="377.60" y1="885.20" x2="377.60" y2="908.10" stroke="#000" stroke-width="1.8" />
<path d="M377.60,879.20 L374.40,887.80 L380.80,887.80 Z" fill="#000"/>
<line x1="377.60" y1="925.80" x2="377.60" y2="948.70" stroke="#000" stroke-width="1.8" />
<path d="M377.60,919.80 L374.40,928.40 L380.80,928.40 Z" fill="#000"/>
<line x1="418.25" y1="560.40" x2="418.25" y2="583.30" stroke="#000" stroke-width="1.8" />
<path d="M418.25,554.40 L415.05,563.00 L421.45,563.00 Z" fill="#000"/>
<line x1="418.25" y1="601.00" x2="418.25" y2="623.90" stroke="#000" stroke-width="1.8" />
<path d="M418.25,595.00 L415.05,603.60 L421.45,603.60 Z" fill="#000"/>
<line x1="418.25" y1="641.60" x2="418.25" y2="664.50" stroke="#000" stroke-width="1.8" />
<path d="M418.25,635.60 L415.05,644.20 L421.45,644.20 Z" fill="#000"/>
<line x1="418.25" y1="682.20" x2="418.25" y2="705.10" stroke="#000" stroke-width="1.8" />
<path d="M418.25,676.20 L415.05,684.80 L421.45,684.80 Z" fill="#000"/>
<line x1="418.25" y1="722.80" x2="418.25" y2="745.70" stroke="#000" stroke-width="1.8" />
<path d="M418.25,716.80 L415.05,725.40 L421.45,725.40 Z" fill="#000"/>
<line x1="418.25" y1="763.40" x2="418.25" y2="786.30" stroke="#000" stroke-width="1.8" />
<path d="M418.25,757.40 L415.05,766.00 L421.45,766.00 Z" fill="#000"/>
<line x1="418.25" y1="804.00" x2="418.25" y2="826.90" stroke="#000" stroke-width="1.8" />
<path d="M418.25,798.00 L415.05,806.60 L421.45,806.60 Z" fill="#000"/>
<line x1="418.25" y1="844.60" x2="418.25" y2="867.50" stroke="#000" stroke-width="1.8" />
<path d="M418.25,838.60 L415.05,847.20 L421.45,847.20 Z" fill="#000"/>
<line x1="418.25" y1="885.20" x2="418.25" y2="908.10" stroke="#000" stroke-width="1.8" />
<path d="M418.25,879.20 L415.05,887.80 L421.45,887.80 Z" fill="#000"/>
<line x1="418.25" y1="925.80" x2="418.25" y2="948.70" stroke="#000" stroke-width="1.8" />
<path d="M418.25,919.80 L415.05,928.40 L421.45,928.40 Z" fill="#000"/>
<defs><linearGradient id="cv" x1="0" y1="1" x2="0" y2="0"><stop offset="0.00" stop-color="#00224e"/><stop offset="0.05" stop-color="#002b62"/><stop offset="0.10" stop-color="#083370"/><stop offset="0.15" stop-color="#243c6e"/><stop offset="0.20" stop-color="#35456c"/><stop offset="0.25" stop-color="#434e6c"/><stop offset="0.30" stop-color="#4f576c"/><stop offset="0.35" stop-color="#5b606e"/><stop offset="0.40" stop-color="#666970"/><stop offset="0.45" stop-color="#727274"/><stop offset="0.50" stop-color="#7d7c78"/><stop offset="0.55" stop-color="#888578"/><stop offset="0.60" stop-color="#948e77"/><stop offset="0.65" stop-color="#a19975"/><stop offset="0.70" stop-color="#aea371"/><stop offset="0.75" stop-color="#bcae6c"/><stop offset="0.80" stop-color="#c8b866"/><stop offset="0.85" stop-color="#d6c35d"/><stop offset="0.90" stop-color="#e5cf52"/><stop offset="0.95" stop-color="#f3db42"/><stop offset="1.00" stop-color="#fee838"/></linearGradient></defs>
<rect x="459" y="553.6" width="34.5" height="401.2" fill="url(#cv)" stroke="#000" stroke-width="1.5"/>
<line x1="459.00" y1="559.00" x2="465.00" y2="559.00" stroke="#000" stroke-width="1.5" />
<line x1="493.50" y1="559.00" x2="487.50" y2="559.00" stroke="#000" stroke-width="1.5" />
<text x="531.20" y="573.80" font-size="37" text-anchor="middle" fill="#000" >1</text>
<line x1="459.00" y1="643.30" x2="465.00" y2="643.30" stroke="#000" stroke-width="1.5" />
<line x1="493.50" y1="643.30" x2="487.50" y2="643.30" stroke="#000" stroke-width="1.5" />
<text x="533.00" y="658.10" font-size="37" text-anchor="middle" fill="#000" >0.8</text>
<line x1="459.00" y1="727.60" x2="465.00" y2="727.60" stroke="#000" stroke-width="1.5" />
<line x1="493.50" y1="727.60" x2="487.50" y2="727.60" stroke="#000" stroke-width="1.5" />
<text x="533.00" y="742.40" font-size="37" text-anchor="middle" fill="#000" >0.6</text>
<line x1="459.00" y1="811.50" x2="465.00" y2="811.50" stroke="#000" stroke-width="1.5" />
<line x1="493.50" y1="811.50" x2="487.50" y2="811.50" stroke="#000" stroke-width="1.5" />
<text x="533.00" y="826.30" font-size="37" text-anchor="middle" fill="#000" >0.4</text>
<line x1="459.00" y1="896.00" x2="465.00" y2="896.00" stroke="#000" stroke-width="1.5" />
<line x1="493.50" y1="896.00" x2="487.50" y2="896.00" stroke="#000" stroke-width="1.5" />
<text x="533.00" y="910.80" font-size="37" text-anchor="middle" fill="#000" >0.2</text>
<text x="641.50" y="557.30" font-size="55" text-anchor="start" fill="#000" >d</text>
<line x1="748.59" y1="907.30" x2="748.59" y2="903.10" stroke="#000" stroke-width="2.0" />
<line x1="748.59" y1="556.80" x2="748.59" y2="561.00" stroke="#000" stroke-width="2.0" />
<line x1="764.43" y1="907.30" x2="764.43" y2="903.10" stroke="#000" stroke-width="2.0" />
<line x1="764.43" y1="556.80" x2="764.43" y2="561.00" stroke="#000" stroke-width="2.0" />
<line x1="777.82" y1="907.30" x2="777.82" y2="903.10" stroke="#000" stroke-width="2.0" />
<line x1="777.82" y1="556.80" x2="777.82" y2="561.00" stroke="#000" stroke-width="2.0" />
<line x1="789.42" y1="907.30" x2="789.42" y2="903.10" stroke="#000" stroke-width="2.0" />
<line x1="789.42" y1="556.80" x2="789.42" y2="561.00" stroke="#000" stroke-width="2.0" />
<line x1="799.65" y1="907.30" x2="799.65" y2="903.10" stroke="#000" stroke-width="2.0" />
<line x1="799.65" y1="556.80" x2="799.65" y2="561.00" stroke="#000" stroke-width="2.0" />
<line x1="808.80" y1="907.30" x2="808.80" y2="899.30" stroke="#000" stroke-width="2.0" />
<line x1="808.80" y1="556.80" x2="808.80" y2="564.80" stroke="#000" stroke-width="2.0" />
<line x1="869.01" y1="907.30" x2="869.01" y2="903.10" stroke="#000" stroke-width="2.0" />
<line x1="869.01" y1="556.80" x2="869.01" y2="561.00" stroke="#000" stroke-width="2.0" />
<line x1="904.22" y1="907.30" x2="904.22" y2="903.10" stroke="#000" stroke-width="2.0" />
<line x1="904.22" y1="556.80" x2="904.22" y2="561.00" stroke="#000" stroke-width="2.0" />
<line x1="929.21" y1="907.30" x2="929.21" y2="903.10" stroke="#000" stroke-width="2.0" />
<line x1="929.21" y1="556.80" x2="929.21" y2="561.00" stroke="#000" stroke-width="2.0" />
<line x1="948.59" y1="907.30" x2="948.59" y2="903.10" stroke="#000" stroke-width="2.0" />
<line x1="948.59" y1="556.80" x2="948.59" y2="561.00" stroke="#000" stroke-width="2.0" />
<line x1="964.43" y1="907.30" x2="964.43" y2="903.10" stroke="#000" stroke-width="2.0" />
<line x1="964.43" y1="556.80" x2="964.43" y2="561.00" stroke="#000" stroke-width="2.0" />
<line x1="977.82" y1="907.30" x2="977.82" y2="903.10" stroke="#000" stroke-width="2.0" />
<line x1="977.82" y1="556.80" x2="977.82" y2="561.00" stroke="#000" stroke-width="2.0" />
<line x1="989.42" y1="907.30" x2="989.42" y2="903.10" stroke="#000" stroke-width="2.0" />
<line x1="989.42" y1="556.80" x2="989.42" y2="561.00" stroke="#000" stroke-width="2.0" />
<line x1="999.65" y1="907.30" x2="999.65" y2="903.10" stroke="#000" stroke-width="2.0" />
<line x1="999.65" y1="556.80" x2="999.65" y2="561.00" stroke="#000" stroke-width="2.0" />
<line x1="1008.80" y1="907.30" x2="1008.80" y2="899.30" stroke="#000" stroke-width="2.0" />
<line x1="1008.80" y1="556.80" x2="1008.80" y2="564.80" stroke="#000" stroke-width="2.0" />
<line x1="1069.01" y1="907.30" x2="1069.01" y2="903.10" stroke="#000" stroke-width="2.0" />
<line x1="1069.01" y1="556.80" x2="1069.01" y2="561.00" stroke="#000" stroke-width="2.0" />
<line x1="1104.22" y1="907.30" x2="1104.22" y2="903.10" stroke="#000" stroke-width="2.0" />
<line x1="1104.22" y1="556.80" x2="1104.22" y2="561.00" stroke="#000" stroke-width="2.0" />
<line x1="1129.21" y1="907.30" x2="1129.21" y2="903.10" stroke="#000" stroke-width="2.0" />
<line x1="1129.21" y1="556.80" x2="1129.21" y2="561.00" stroke="#000" stroke-width="2.0" />
<line x1="1148.59" y1="907.30" x2="1148.59" y2="903.10" stroke="#000" stroke-width="2.0" />
<line x1="1148.59" y1="556.80" x2="1148.59" y2="561.00" stroke="#000" stroke-width="2.0" />
<line x1="1164.43" y1="907.30" x2="1164.43" y2="903.10" stroke="#000" stroke-width="2.0" />
<line x1="1164.43" y1="556.80" x2="1164.43" y2="561.00" stroke="#000" stroke-width="2.0" />
<line x1="1177.82" y1="907.30" x2="1177.82" y2="903.10" stroke="#000" stroke-width="2.0" />
<line x1="1177.82" y1="556.80" x2="1177.82" y2="561.00" stroke="#000" stroke-width="2.0" />
<line x1="1189.42" y1="907.30" x2="1189.42" y2="903.10" stroke="#000" stroke-width="2.0" />
<line x1="1189.42" y1="556.80" x2="1189.42" y2="561.00" stroke="#000" stroke-width="2.0" />
<line x1="1199.65" y1="907.30" x2="1199.65" y2="903.10" stroke="#000" stroke-width="2.0" />
<line x1="1199.65" y1="556.80" x2="1199.65" y2="561.00" stroke="#000" stroke-width="2.0" />
<line x1="1208.80" y1="907.30" x2="1208.80" y2="899.30" stroke="#000" stroke-width="2.0" />
<line x1="1208.80" y1="556.80" x2="1208.80" y2="564.80" stroke="#000" stroke-width="2.0" />
<line x1="749.00" y1="907.30" x2="757.00" y2="907.30" stroke="#000" stroke-width="2.0" />
<line x1="749.00" y1="840.75" x2="757.00" y2="840.75" stroke="#000" stroke-width="2.0" />
<line x1="749.00" y1="774.20" x2="757.00" y2="774.20" stroke="#000" stroke-width="2.0" />
<line x1="749.00" y1="707.65" x2="757.00" y2="707.65" stroke="#000" stroke-width="2.0" />
<line x1="749.00" y1="641.10" x2="757.00" y2="641.10" stroke="#000" stroke-width="2.0" />
<line x1="749.00" y1="574.55" x2="757.00" y2="574.55" stroke="#000" stroke-width="2.0" />
<line x1="1216.70" y1="889.30" x2="1208.70" y2="889.30" stroke="#0000ff" stroke-width="2.0" />
<line x1="1216.70" y1="812.12" x2="1208.70" y2="812.12" stroke="#0000ff" stroke-width="2.0" />
<line x1="1216.70" y1="734.95" x2="1208.70" y2="734.95" stroke="#0000ff" stroke-width="2.0" />
<line x1="1216.70" y1="657.77" x2="1208.70" y2="657.77" stroke="#0000ff" stroke-width="2.0" />
<line x1="1216.70" y1="580.60" x2="1208.70" y2="580.60" stroke="#0000ff" stroke-width="2.0" />
<line x1="749.00" y1="556.80" x2="1216.70" y2="556.80" stroke="#000" stroke-width="2.2" />
<line x1="749.00" y1="907.30" x2="1216.70" y2="907.30" stroke="#000" stroke-width="2.2" />
<line x1="749.00" y1="555.70" x2="749.00" y2="908.40" stroke="#000" stroke-width="2.2" />
<line x1="1216.70" y1="555.70" x2="1216.70" y2="908.40" stroke="#0000ff" stroke-width="2.2" />
<polyline points="749.00,802.90 808.80,872.10 844.10,891.50 869.10,899.60 888.00,899.60 904.00,890.30 917.40,854.30 923.00,810.40 929.00,717.40 934.20,661.60 939.40,628.10 943.40,609.90 948.30,591.60 956.90,582.00 971.00,579.60 983.80,588.90 990.00,587.10 994.10,587.10 999.60,591.70 1040.50,590.80 1044.10,586.70 1046.90,591.20 1068.00,594.90 1071.20,590.80 1086.30,593.50 1088.60,598.60 1098.30,598.60 1100.10,593.50 1101.80,598.60 1104.60,598.60 1105.50,593.50 1106.40,593.50 1107.30,598.60 1110.10,598.60 1111.00,593.50 1113.80,593.50 1114.70,598.60 1126.60,598.60 1127.50,593.50 1138.50,593.50 1139.40,598.60 1150.50,598.60 1151.40,593.50 1156.90,593.50 1157.80,598.60 1162.40,598.60 1163.30,593.50 1164.20,593.50 1165.10,598.60 1167.90,598.60 1168.80,593.50 1169.70,593.50 1170.60,598.60 1173.40,598.60 1174.30,593.50 1178.00,593.50 1178.90,598.60 1179.80,598.60 1180.70,593.50 1182.60,593.50 1183.50,598.60 1184.40,598.60 1185.30,593.50 1188.10,593.50 1189.00,598.60 1189.90,598.60 1190.80,593.50 1200.00,593.50 1200.90,598.60 1201.80,598.60 1202.80,593.50 1205.50,593.50 1206.40,598.60 1207.30,598.60 1208.30,593.50 1210.10,593.50 1211.00,598.60 1211.90,598.60 1212.80,593.50 1216.70,593.50" fill="none" stroke="#0000ff" stroke-width="3.0" stroke-linejoin="round" />
<circle cx="748.2" cy="667.5" r="4.4" fill="#000"/>
<circle cx="808.8" cy="775.4" r="4.4" fill="#000"/>
<circle cx="844.1" cy="809.6" r="4.4" fill="#000"/>
<circle cx="869.1" cy="824.1" r="4.4" fill="#000"/>
<circle cx="888" cy="828.2" r="4.4" fill="#000"/>
<circle cx="904" cy="824.1" r="4.4" fill="#000"/>
<circle cx="917.4" cy="795.1" r="4.4" fill="#000"/>
<circle cx="929" cy="678.3" r="4.4" fill="#000"/>
<circle cx="939.2" cy="602" r="4.4" fill="#000"/>
<circle cx="948.3" cy="572.4" r="4.4" fill="#000"/>
<circle cx="956.3" cy="564.4" r="4.4" fill="#000"/>
<circle cx="964.2" cy="564.4" r="4.4" fill="#000"/>
<circle cx="971" cy="563.7" r="4.4" fill="#000"/>
<circle cx="977.1" cy="568.1" r="4.4" fill="#000"/>
<circle cx="982.6" cy="572.6" r="4.4" fill="#000"/>
<circle cx="989.9" cy="572.6" r="4.4" fill="#000"/>
<circle cx="994.8" cy="571.4" r="4.4" fill="#000"/>
<circle cx="997.0" cy="576.1" r="4.5" fill="#000"/>
<circle cx="999.5" cy="576.1" r="4.5" fill="#000"/>
<circle cx="1002.0" cy="576.1" r="4.5" fill="#000"/>
<circle cx="1004.5" cy="576.1" r="4.5" fill="#000"/>
<circle cx="1007.0" cy="576.1" r="4.5" fill="#000"/>
<circle cx="1009.5" cy="576.1" r="4.5" fill="#000"/>
<circle cx="1012.0" cy="576.1" r="4.5" fill="#000"/>
<circle cx="1014.5" cy="576.1" r="4.5" fill="#000"/>
<circle cx="1017.0" cy="576.1" r="4.5" fill="#000"/>
<circle cx="1019.5" cy="576.1" r="4.5" fill="#000"/>
<circle cx="1022.0" cy="576.1" r="4.5" fill="#000"/>
<circle cx="1024.5" cy="576.1" r="4.5" fill="#000"/>
<circle cx="1027.0" cy="576.1" r="4.5" fill="#000"/>
<circle cx="1029.5" cy="576.1" r="4.5" fill="#000"/>
<circle cx="1032.0" cy="576.1" r="4.5" fill="#000"/>
<circle cx="1034.5" cy="576.1" r="4.5" fill="#000"/>
<circle cx="1037.0" cy="576.1" r="4.5" fill="#000"/>
<circle cx="1039.5" cy="576.1" r="4.5" fill="#000"/>
<circle cx="1042.0" cy="572.2" r="4.5" fill="#000"/>
<circle cx="1044.5" cy="572.2" r="4.5" fill="#000"/>
<circle cx="1047.0" cy="576.1" r="4.5" fill="#000"/>
<circle cx="1049.5" cy="576.1" r="4.5" fill="#000"/>
<circle cx="1052.0" cy="576.1" r="4.5" fill="#000"/>
<circle cx="1054.5" cy="576.1" r="4.5" fill="#000"/>
<circle cx="1057.0" cy="576.1" r="4.5" fill="#000"/>
<circle cx="1059.5" cy="576.1" r="4.5" fill="#000"/>
<circle cx="1062.0" cy="576.1" r="4.5" fill="#000"/>
<circle cx="1064.5" cy="576.1" r="4.5" fill="#000"/>
<circle cx="1067.0" cy="576.1" r="4.5" fill="#000"/>
<circle cx="1069.5" cy="572.2" r="4.5" fill="#000"/>
<circle cx="1072.0" cy="572.2" r="4.5" fill="#000"/>
<circle cx="1074.5" cy="572.2" r="4.5" fill="#000"/>
<circle cx="1077.0" cy="572.2" r="4.5" fill="#000"/>
<circle cx="1079.5" cy="572.2" r="4.5" fill="#000"/>
<circle cx="1082.0" cy="572.2" r="4.5" fill="#000"/>
<circle cx="1084.5" cy="572.2" r="4.5" fill="#000"/>
<circle cx="1087.0" cy="576.1" r="4.5" fill="#000"/>
<circle cx="1089.5" cy="576.1" r="4.5" fill="#000"/>
<circle cx="1092.0" cy="576.1" r="4.5" fill="#000"/>
<circle cx="1094.5" cy="576.1" r="4.5" fill="#000"/>
<circle cx="1097.0" cy="572.2" r="4.5" fill="#000"/>
<circle cx="1099.5" cy="572.2" r="4.5" fill="#000"/>
<circle cx="1102.0" cy="572.2" r="4.5" fill="#000"/>
<circle cx="1104.5" cy="572.2" r="4.5" fill="#000"/>
<circle cx="1107.0" cy="572.2" r="4.5" fill="#000"/>
<circle cx="1109.5" cy="572.2" r="4.5" fill="#000"/>
<circle cx="1112.0" cy="572.2" r="4.5" fill="#000"/>
<circle cx="1112.0" cy="576.1" r="4.5" fill="#000"/>
<circle cx="1114.5" cy="572.2" r="4.5" fill="#000"/>
<circle cx="1114.5" cy="576.1" r="4.5" fill="#000"/>
<circle cx="1117.0" cy="572.2" r="4.5" fill="#000"/>
<circle cx="1117.0" cy="576.1" r="4.5" fill="#000"/>
<circle cx="1119.5" cy="576.1" r="4.5" fill="#000"/>
<circle cx="1122.0" cy="576.1" r="4.5" fill="#000"/>
<circle cx="1124.5" cy="572.2" r="4.5" fill="#000"/>
<circle cx="1124.5" cy="576.1" r="4.5" fill="#000"/>
<circle cx="1127.0" cy="572.2" r="4.5" fill="#000"/>
<circle cx="1127.0" cy="576.1" r="4.5" fill="#000"/>
<circle cx="1129.5" cy="572.2" r="4.5" fill="#000"/>
<circle cx="1129.5" cy="576.1" r="4.5" fill="#000"/>
<circle cx="1132.0" cy="572.2" r="4.5" fill="#000"/>
<circle cx="1134.5" cy="572.2" r="4.5" fill="#000"/>
<circle cx="1137.0" cy="572.2" r="4.5" fill="#000"/>
<circle cx="1139.5" cy="572.2" r="4.5" fill="#000"/>
<circle cx="1139.5" cy="576.1" r="4.5" fill="#000"/>
<circle cx="1142.0" cy="572.2" r="4.5" fill="#000"/>
<circle cx="1142.0" cy="576.1" r="4.5" fill="#000"/>
<circle cx="1144.5" cy="572.2" r="4.5" fill="#000"/>
<circle cx="1144.5" cy="576.1" r="4.5" fill="#000"/>
<circle cx="1147.0" cy="572.2" r="4.5" fill="#000"/>
<circle cx="1147.0" cy="576.1" r="4.5" fill="#000"/>
<circle cx="1149.5" cy="572.2" r="4.5" fill="#000"/>
<circle cx="1149.5" cy="576.1" r="4.5" fill="#000"/>
<circle cx="1152.0" cy="572.2" r="4.5" fill="#000"/>
<circle cx="1152.0" cy="576.1" r="4.5" fill="#000"/>
<circle cx="1154.5" cy="572.2" r="4.5" fill="#000"/>
<circle cx="1154.5" cy="576.1" r="4.5" fill="#000"/>
<circle cx="1157.0" cy="572.2" r="4.5" fill="#000"/>
<circle cx="1157.0" cy="576.1" r="4.5" fill="#000"/>
<circle cx="1159.5" cy="572.2" r="4.5" fill="#000"/>
<circle cx="1159.5" cy="576.1" r="4.5" fill="#000"/>
<circle cx="1162.0" cy="572.2" r="4.5" fill="#000"/>
<circle cx="1162.0" cy="576.1" r="4.5" fill="#000"/>
<circle cx="1164.5" cy="572.2" r="4.5" fill="#000"/>
<circle cx="1164.5" cy="576.1" r="4.5" fill="#000"/>
<circle cx="1167.0" cy="572.2" r="4.5" fill="#000"/>
<circle cx="1167.0" cy="576.1" r="4.5" fill="#000"/>
<circle cx="1169.5" cy="572.2" r="4.5" fill="#000"/>
<circle cx="1169.5" cy="576.1" r="4.5" fill="#000"/>
<circle cx="1172.0" cy="572.2" r="4.5" fill="#000"/>
<circle cx="1172.0" cy="576.1" r="4.5" fill="#000"/>
<circle cx="1174.5" cy="572.2" r="4.5" fill="#000"/>
<circle cx="1174.5" cy="576.1" r="4.5" fill="#000"/>
<circle cx="1177.0" cy="572.2" r="4.5" fill="#000"/>
<circle cx="1177.0" cy="576.1" r="4.5" fill="#000"/>
<circle cx="1179.5" cy="572.2" r="4.5" fill="#000"/>
<circle cx="1179.5" cy="576.1" r="4.5" fill="#000"/>
<circle cx="1182.0" cy="572.2" r="4.5" fill="#000"/>
<circle cx="1182.0" cy="576.1" r="4.5" fill="#000"/>
<circle cx="1184.5" cy="572.2" r="4.5" fill="#000"/>
<circle cx="1184.5" cy="576.1" r="4.5" fill="#000"/>
<circle cx="1187.0" cy="572.2" r="4.5" fill="#000"/>
<circle cx="1187.0" cy="576.1" r="4.5" fill="#000"/>
<circle cx="1189.5" cy="572.2" r="4.5" fill="#000"/>
<circle cx="1189.5" cy="576.1" r="4.5" fill="#000"/>
<circle cx="1192.0" cy="572.2" r="4.5" fill="#000"/>
<circle cx="1194.5" cy="572.2" r="4.5" fill="#000"/>
<circle cx="1197.0" cy="572.2" r="4.5" fill="#000"/>
<circle cx="1199.5" cy="572.2" r="4.5" fill="#000"/>
<circle cx="1199.5" cy="576.1" r="4.5" fill="#000"/>
<circle cx="1202.0" cy="572.2" r="4.5" fill="#000"/>
<circle cx="1202.0" cy="576.1" r="4.5" fill="#000"/>
<circle cx="1204.5" cy="572.2" r="4.5" fill="#000"/>
<circle cx="1204.5" cy="576.1" r="4.5" fill="#000"/>
<circle cx="1207.0" cy="572.2" r="4.5" fill="#000"/>
<circle cx="1207.0" cy="576.1" r="4.5" fill="#000"/>
<circle cx="1209.5" cy="572.2" r="4.5" fill="#000"/>
<circle cx="1209.5" cy="576.1" r="4.5" fill="#000"/>
<circle cx="1212.0" cy="572.2" r="4.5" fill="#000"/>
<circle cx="1212.0" cy="576.1" r="4.5" fill="#000"/>
<circle cx="1214.5" cy="572.2" r="4.5" fill="#000"/>
<circle cx="1214.5" cy="576.1" r="4.5" fill="#000"/>
<rect x="744.2" y="803.8" width="8" height="8" fill="#000"/>
<rect x="804.8" y="852.9" width="8" height="8" fill="#000"/>
<rect x="840.1" y="868.9" width="8" height="8" fill="#000"/>
<rect x="865.1" y="876.7" width="8" height="8" fill="#000"/>
<rect x="884.0" y="881.9" width="8" height="8" fill="#000"/>
<rect x="900.0" y="884.8" width="8" height="8" fill="#000"/>
<rect x="913.4" y="887.5" width="8" height="8" fill="#000"/>
<rect x="925.0" y="889.0" width="8" height="8" fill="#000"/>
<rect x="935.2" y="890.4" width="8" height="8" fill="#000"/>
<rect x="944.6" y="891.6" width="8" height="8" fill="#000"/>
<rect x="951.0" y="892.1" width="8" height="8" fill="#000"/>
<rect x="953.5" y="892.3" width="8" height="8" fill="#000"/>
<rect x="956.0" y="892.5" width="8" height="8" fill="#000"/>
<rect x="958.5" y="892.7" width="8" height="8" fill="#000"/>
<rect x="961.0" y="892.9" width="8" height="8" fill="#000"/>
<rect x="963.5" y="893.1" width="8" height="8" fill="#000"/>
<rect x="966.0" y="893.4" width="8" height="8" fill="#000"/>
<rect x="968.5" y="893.6" width="8" height="8" fill="#000"/>
<rect x="971.0" y="893.7" width="8" height="8" fill="#000"/>
<rect x="973.5" y="893.8" width="8" height="8" fill="#000"/>
<rect x="976.0" y="894.0" width="8" height="8" fill="#000"/>
<rect x="978.5" y="894.1" width="8" height="8" fill="#000"/>
<rect x="981.0" y="894.2" width="8" height="8" fill="#000"/>
<rect x="983.5" y="894.4" width="8" height="8" fill="#000"/>
<rect x="986.0" y="894.5" width="8" height="8" fill="#000"/>
<rect x="988.5" y="894.6" width="8" height="8" fill="#000"/>
<rect x="991.0" y="894.7" width="8" height="8" fill="#000"/>
<rect x="993.5" y="894.9" width="8" height="8" fill="#000"/>
<rect x="996.0" y="895.0" width="8" height="8" fill="#000"/>
<rect x="998.5" y="895.1" width="8" height="8" fill="#000"/>
<rect x="1001.0" y="895.1" width="8" height="8" fill="#000"/>
<rect x="1003.5" y="895.2" width="8" height="8" fill="#000"/>
<rect x="1006.0" y="895.3" width="8" height="8" fill="#000"/>
<rect x="1008.5" y="895.3" width="8" height="8" fill="#000"/>
<rect x="1011.0" y="895.4" width="8" height="8" fill="#000"/>
<rect x="1013.5" y="895.5" width="8" height="8" fill="#000"/>
<rect x="1016.0" y="895.5" width="8" height="8" fill="#000"/>
<rect x="1018.5" y="895.6" width="8" height="8" fill="#000"/>
<rect x="1021.0" y="895.5" width="8" height="8" fill="#000"/>
<rect x="1023.5" y="895.5" width="8" height="8" fill="#000"/>
<rect x="1026.0" y="895.4" width="8" height="8" fill="#000"/>
<rect x="1028.5" y="895.3" width="8" height="8" fill="#000"/>
<rect x="1031.0" y="895.3" width="8" height="8" fill="#000"/>
<rect x="1033.5" y="895.2" width="8" height="8" fill="#000"/>
<rect x="1036.0" y="895.1" width="8" height="8" fill="#000"/>
<rect x="1038.5" y="895.1" width="8" height="8" fill="#000"/>
<rect x="1041.0" y="895.0" width="8" height="8" fill="#000"/>
<rect x="1043.5" y="894.7" width="8" height="8" fill="#000"/>
<rect x="1046.0" y="894.4" width="8" height="8" fill="#000"/>
<rect x="1048.5" y="894.1" width="8" height="8" fill="#000"/>
<rect x="1051.0" y="893.8" width="8" height="8" fill="#000"/>
<rect x="1053.5" y="893.5" width="8" height="8" fill="#000"/>
<rect x="1056.0" y="893.1" width="8" height="8" fill="#000"/>
<rect x="1058.5" y="892.6" width="8" height="8" fill="#000"/>
<rect x="1061.0" y="892.1" width="8" height="8" fill="#000"/>
<rect x="1063.5" y="891.5" width="8" height="8" fill="#000"/>
<rect x="1066.0" y="891.0" width="8" height="8" fill="#000"/>
<rect x="1068.5" y="890.5" width="8" height="8" fill="#000"/>
<rect x="1071.0" y="890.0" width="8" height="8" fill="#000"/>
<rect x="1073.5" y="889.8" width="8" height="8" fill="#000"/>
<rect x="1076.0" y="889.6" width="8" height="8" fill="#000"/>
<rect x="1078.5" y="889.5" width="8" height="8" fill="#000"/>
<rect x="1081.0" y="889.3" width="8" height="8" fill="#000"/>
<rect x="1083.5" y="889.3" width="8" height="8" fill="#000"/>
<rect x="1086.0" y="889.3" width="8" height="8" fill="#000"/>
<rect x="1088.5" y="889.3" width="8" height="8" fill="#000"/>
<rect x="1091.0" y="889.3" width="8" height="8" fill="#000"/>
<rect x="1093.5" y="889.3" width="8" height="8" fill="#000"/>
<rect x="1096.0" y="889.3" width="8" height="8" fill="#000"/>
<rect x="1098.5" y="889.3" width="8" height="8" fill="#000"/>
<rect x="1101.0" y="889.3" width="8" height="8" fill="#000"/>
<rect x="1103.5" y="889.3" width="8" height="8" fill="#000"/>
<rect x="1106.0" y="889.3" width="8" height="8" fill="#000"/>
<rect x="1108.5" y="889.3" width="8" height="8" fill="#000"/>
<rect x="1111.0" y="889.3" width="8" height="8" fill="#000"/>
<rect x="1113.5" y="889.3" width="8" height="8" fill="#000"/>
<rect x="1116.0" y="889.3" width="8" height="8" fill="#000"/>
<rect x="1118.5" y="889.3" width="8" height="8" fill="#000"/>
<rect x="1121.0" y="889.3" width="8" height="8" fill="#000"/>
<rect x="1123.5" y="889.3" width="8" height="8" fill="#000"/>
<rect x="1126.0" y="889.3" width="8" height="8" fill="#000"/>
<rect x="1128.5" y="889.3" width="8" height="8" fill="#000"/>
<rect x="1131.0" y="889.3" width="8" height="8" fill="#000"/>
<rect x="1133.5" y="889.3" width="8" height="8" fill="#000"/>
<rect x="1136.0" y="889.3" width="8" height="8" fill="#000"/>
<rect x="1138.5" y="889.3" width="8" height="8" fill="#000"/>
<rect x="1141.0" y="889.3" width="8" height="8" fill="#000"/>
<rect x="1143.5" y="889.3" width="8" height="8" fill="#000"/>
<rect x="1146.0" y="889.3" width="8" height="8" fill="#000"/>
<rect x="1148.5" y="889.3" width="8" height="8" fill="#000"/>
<rect x="1151.0" y="889.3" width="8" height="8" fill="#000"/>
<rect x="1153.5" y="889.3" width="8" height="8" fill="#000"/>
<rect x="1156.0" y="889.3" width="8" height="8" fill="#000"/>
<rect x="1158.5" y="889.3" width="8" height="8" fill="#000"/>
<rect x="1161.0" y="889.3" width="8" height="8" fill="#000"/>
<rect x="1163.5" y="889.3" width="8" height="8" fill="#000"/>
<rect x="1166.0" y="889.3" width="8" height="8" fill="#000"/>
<rect x="1168.5" y="889.3" width="8" height="8" fill="#000"/>
<rect x="1171.0" y="889.3" width="8" height="8" fill="#000"/>
<rect x="1173.5" y="889.3" width="8" height="8" fill="#000"/>
<rect x="1176.0" y="889.3" width="8" height="8" fill="#000"/>
<rect x="1178.5" y="889.3" width="8" height="8" fill="#000"/>
<rect x="1181.0" y="889.3" width="8" height="8" fill="#000"/>
<rect x="1183.5" y="889.3" width="8" height="8" fill="#000"/>
<rect x="1186.0" y="889.3" width="8" height="8" fill="#000"/>
<rect x="1188.5" y="889.3" width="8" height="8" fill="#000"/>
<rect x="1191.0" y="889.3" width="8" height="8" fill="#000"/>
<rect x="1193.5" y="889.3" width="8" height="8" fill="#000"/>
<rect x="1196.0" y="889.3" width="8" height="8" fill="#000"/>
<rect x="1198.5" y="889.3" width="8" height="8" fill="#000"/>
<rect x="1201.0" y="889.3" width="8" height="8" fill="#000"/>
<rect x="1203.5" y="889.3" width="8" height="8" fill="#000"/>
<rect x="1206.0" y="889.3" width="8" height="8" fill="#000"/>
<rect x="1208.5" y="889.3" width="8" height="8" fill="#000"/>
<rect x="1211.0" y="889.3" width="8" height="8" fill="#000"/>
<text x="739.80" y="917.50" font-size="29" text-anchor="end" fill="#000" >0</text>
<text x="739.80" y="850.95" font-size="29" text-anchor="end" fill="#000" >50</text>
<text x="739.80" y="784.40" font-size="29" text-anchor="end" fill="#000" >100</text>
<text x="739.80" y="717.85" font-size="29" text-anchor="end" fill="#000" >150</text>
<text x="739.80" y="651.30" font-size="29" text-anchor="end" fill="#000" >200</text>
<text x="739.80" y="584.75" font-size="29" text-anchor="end" fill="#000" >250</text>
<text x="1225.50" y="899.50" font-size="29" text-anchor="start" fill="#0000ff" >50</text>
<text x="1225.50" y="822.33" font-size="29" text-anchor="start" fill="#0000ff" >100</text>
<text x="1225.50" y="745.15" font-size="29" text-anchor="start" fill="#0000ff" >150</text>
<text x="1225.50" y="667.98" font-size="29" text-anchor="start" fill="#0000ff" >200</text>
<text x="1225.50" y="590.80" font-size="29" text-anchor="start" fill="#0000ff" >250</text>
<text x="808.80" y="944.50" font-size="29" text-anchor="middle" fill="#000" >0.1</text>
<text x="1008.80" y="944.50" font-size="29" text-anchor="middle" fill="#000" >1</text>
<text x="1208.80" y="944.50" font-size="29" text-anchor="middle" fill="#000" >10</text>
<text x="982.60" y="979.00" text-anchor="middle" fill="#000"><tspan font-size="31" font-style="italic">t</tspan><tspan font-size="24" dy="14.50">0</tspan><tspan font-size="31" dy="-14.50"> (mm)</tspan></text>
<text transform="translate(686,732) rotate(-90)" font-size="31.7" text-anchor="middle">Bound (kHz)</text>
<text transform="translate(1302.3,732.6) rotate(-90)" font-size="31.6" text-anchor="middle" fill="#0000ff">Bandwidth (kHz)</text>
<text x="841.4" y="712.7"><tspan font-size="29" font-style="italic">f</tspan><tspan font-size="19" font-weight="normal" dy="6.5" dx="3.5">U</tspan></text>
<line x1="839.10" y1="723.00" x2="817.21" y2="758.46" stroke="#000" stroke-width="1.2" />
<path d="M811.70,767.40 L814.13,751.27 L817.21,758.46 L825.02,758.00 Z" fill="#000"/>
<text x="790" y="814.5"><tspan font-size="25.5" font-style="italic">f</tspan><tspan font-size="20" dy="12.5" dx="4.8">L</tspan></text>
<line x1="816.60" y1="831.10" x2="837.22" y2="860.14" stroke="#000" stroke-width="1.2" />
<path d="M843.30,868.70 L829.56,860.06 L837.22,860.14 L839.67,852.88 Z" fill="#000"/>
<line x1="937.10" y1="638.50" x2="989.30" y2="638.50" stroke="#0000ff" stroke-width="1.2" />
<path d="M1002.70,638.50 L985.30,644.50 L989.30,638.50 L985.30,632.50 Z" fill="#0000ff"/>
</svg></body></html>
